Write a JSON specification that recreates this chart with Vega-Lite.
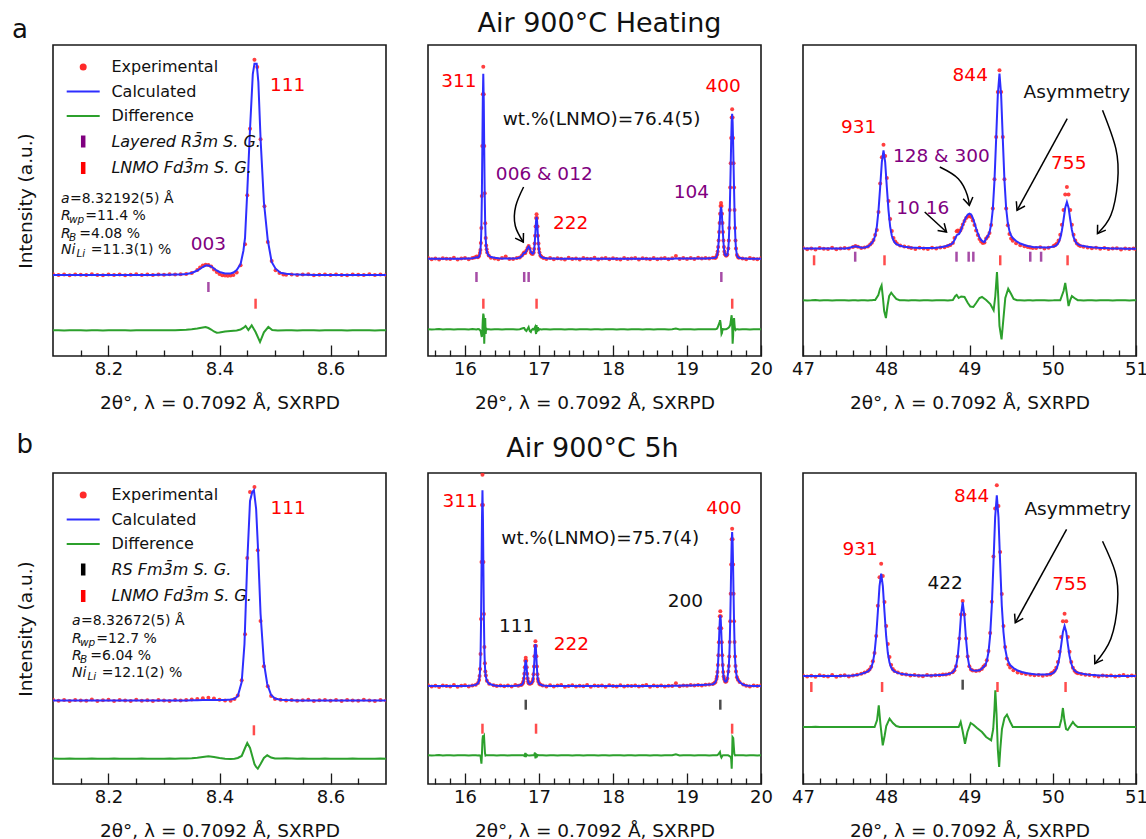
{
"$schema":"https://vega.github.io/schema/vega-lite/v6.json",
"background":"white",
"padding":{"left":11,"top":9,"right":0,"bottom":0},
"autosize":{"type":"pad"},
"config":{
 "font":"DejaVu Sans",
 "view":{"stroke":"#1a1a1a","strokeWidth":1.6},
 "axis":{"grid":false,"domain":false,"labelFont":"DejaVu Sans","labelFontSize":18,"labelColor":"#111","titleFont":"DejaVu Sans","titleFontSize":18.5,"titleFontWeight":"normal","titleColor":"#111","tickColor":"#1a1a1a","tickWidth":1.3},
 "title":{"font":"DejaVu Sans","fontWeight":"normal","color":"#111"},
 "legend":{"labelFont":"DejaVu Sans"},
 "text":{"font":"DejaVu Sans"}
},
"datasets":{
"prof":[
{"p":"a1","x":8.10,"e":81.8,"c":81,"d":25.7},{"p":"a1","x":8.11,"e":80.9,"c":81,"d":25.7},{"p":"a1","x":8.12,"e":81.5,"c":81,"d":25.6},{"p":"a1","x":8.13,"e":80.7,"c":81,"d":25.7},{"p":"a1","x":8.14,"e":81.6,"c":81,"d":25.8},{"p":"a1","x":8.15,"e":81.2,"c":81,"d":25.7},{"p":"a1","x":8.16,"e":80.9,"c":81,"d":25.6},{"p":"a1","x":8.17,"e":81.7,"c":81,"d":25.7},{"p":"a1","x":8.18,"e":81.1,"c":81,"d":25.7},{"p":"a1","x":8.19,"e":80.8,"c":81,"d":25.6},{"p":"a1","x":8.20,"e":81.5,"c":81,"d":25.7},{"p":"a1","x":8.21,"e":81.0,"c":81,"d":25.8},{"p":"a1","x":8.22,"e":81.6,"c":81,"d":25.7},{"p":"a1","x":8.23,"e":80.8,"c":81,"d":25.7},{"p":"a1","x":8.24,"e":81.3,"c":81,"d":25.6},{"p":"a1","x":8.25,"e":81.7,"c":81,"d":25.7},{"p":"a1","x":8.26,"e":80.9,"c":81.1,"d":25.7},{"p":"a1","x":8.27,"e":81.4,"c":81.1,"d":25.8},{"p":"a1","x":8.28,"e":81.0,"c":81.1,"d":25.7},{"p":"a1","x":8.29,"e":81.6,"c":81.2,"d":25.7},{"p":"a1","x":8.30,"e":81.2,"c":81.2,"d":25.7},{"p":"a1","x":8.31,"e":81.7,"c":81.3,"d":25.8},{"p":"a1","x":8.32,"e":81.4,"c":81.4,"d":25.8},{"p":"a1","x":8.33,"e":81.8,"c":81.6,"d":26},{"p":"a1","x":8.34,"e":82.0,"c":82,"d":26.3},{"p":"a1","x":8.35,"e":83,"c":83,"d":26.8},{"p":"a1","x":8.36,"e":86,"c":85.5,"d":27.5},{"p":"a1","x":8.365,"e":88.5},{"p":"a1","x":8.37,"e":90.5,"c":89,"d":28.5},{"p":"a1","x":8.375,"e":91.3,"c":90.5,"d":29},{"p":"a1","x":8.38,"e":91,"c":90.5,"d":28},{"p":"a1","x":8.385,"e":89.5,"c":89.5,"d":26.5},{"p":"a1","x":8.39,"e":86.5,"c":87.5,"d":24.5},{"p":"a1","x":8.395,"e":84,"c":85.5,"d":23.3},{"p":"a1","x":8.40,"e":82,"c":84,"d":23.5},{"p":"a1","x":8.405,"e":80.8},{"p":"a1","x":8.41,"e":80.5,"c":82.5,"d":24.5},{"p":"a1","x":8.415,"e":80.3},{"p":"a1","x":8.42,"e":80.5,"c":82.5,"d":25},{"p":"a1","x":8.425,"e":81,"c":83.5},{"p":"a1","x":8.431,"e":83.5,"c":86,"d":25.5},{"p":"a1","x":8.438,"e":90.7,"c":92,"d":26.5},{"p":"a1","x":8.443,"c":105,"d":28},{"p":"a1","x":8.446,"e":111.7,"c":118},{"p":"a1","x":8.447,"d":30},{"p":"a1","x":8.45,"e":160.7,"c":164},{"p":"a1","x":8.452,"d":26},{"p":"a1","x":8.455,"e":227.3,"c":227},{"p":"a1","x":8.458,"d":30.7},{"p":"a1","x":8.46,"c":282},{"p":"a1","x":8.463,"e":296.3,"c":292.3},{"p":"a1","x":8.465,"d":24},{"p":"a1","x":8.467,"c":292.3},{"p":"a1","x":8.468,"e":289},{"p":"a1","x":8.47,"c":274},{"p":"a1","x":8.473,"d":14},{"p":"a1","x":8.474,"e":216.7,"c":217},{"p":"a1","x":8.48,"c":154,"d":23.7},{"p":"a1","x":8.481,"e":149.7},{"p":"a1","x":8.487,"e":114,"c":115.7},{"p":"a1","x":8.488,"d":29},{"p":"a1","x":8.494,"e":95,"c":94},{"p":"a1","x":8.495,"d":26},{"p":"a1","x":8.501,"e":85.7,"c":87.3},{"p":"a1","x":8.505,"d":25.5},{"p":"a1","x":8.508,"e":83},{"p":"a1","x":8.51,"c":83.3},{"p":"a1","x":8.515,"e":81.5},{"p":"a1","x":8.52,"e":81.2,"c":82.3,"d":25.7},{"p":"a1","x":8.53,"e":81.6,"c":81.8,"d":25.7},{"p":"a1","x":8.54,"e":80.9,"c":81.5,"d":25.6},{"p":"a1","x":8.55,"e":81.4,"c":81.3,"d":25.7},{"p":"a1","x":8.56,"e":81.8,"c":81.2,"d":25.8},{"p":"a1","x":8.57,"e":80.8,"c":81.1,"d":25.7},{"p":"a1","x":8.58,"e":81.3,"c":81.1,"d":25.6},{"p":"a1","x":8.59,"e":81.6,"c":81,"d":25.7},{"p":"a1","x":8.60,"e":80.9,"c":81,"d":25.7},{"p":"a1","x":8.61,"e":81.5,"c":81,"d":25.8},{"p":"a1","x":8.62,"e":81.1,"c":81,"d":25.7},{"p":"a1","x":8.63,"e":80.7,"c":81,"d":25.6},{"p":"a1","x":8.64,"e":81.6,"c":81,"d":25.7},{"p":"a1","x":8.65,"e":81.2,"c":81,"d":25.7},{"p":"a1","x":8.66,"e":80.9,"c":81,"d":25.8},{"p":"a1","x":8.67,"e":81.7,"c":81,"d":25.7},{"p":"a1","x":8.68,"e":81.0,"c":81,"d":25.6},{"p":"a1","x":8.69,"e":81.4,"c":81,"d":25.7},{"p":"a1","x":8.70,"e":81.1,"c":81,"d":25.7},

{"p":"a2","x":15.50,"e":98.1,"c":97.2,"d":26.8},{"p":"a2","x":15.55,"e":96.7,"c":97.2,"d":26.6},{"p":"a2","x":15.60,"e":97.6,"c":97.2,"d":26.7},{"p":"a2","x":15.65,"e":96.4,"c":97.2,"d":26.9},{"p":"a2","x":15.70,"e":97.8,"c":97.2,"d":26.6},{"p":"a2","x":15.75,"e":97.3,"c":97.2,"d":26.7},{"p":"a2","x":15.80,"e":96.9,"c":97.2,"d":26.8},{"p":"a2","x":15.85,"e":98.3,"c":97.2,"d":26.6},{"p":"a2","x":15.90,"e":96.6,"c":97.3,"d":26.7},{"p":"a2","x":15.95,"e":97.5,"c":97.3,"d":26.8},{"p":"a2","x":16.00,"e":98.1,"c":97.4,"d":26.7},{"p":"a2","x":16.05,"e":96.7,"c":97.5,"d":26.6},{"p":"a2","x":16.10,"e":97.9,"c":97.8,"d":26.9},{"p":"a2","x":16.13,"e":98.5,"c":98.3,"d":26.7},{"p":"a2","x":16.155,"e":99.5,"c":98.8,"d":26.5},{"p":"a2","x":16.175,"e":98.8,"c":98.6,"d":27},{"p":"a2","x":16.19,"e":100,"c":99.6,"d":26.8},{"p":"a2","x":16.2015,"e":103,"c":102.5,"d":26},{"p":"a2","x":16.208,"e":106,"c":105.5,"d":25.5},{"p":"a2","x":16.2145,"e":113,"c":112,"d":24},{"p":"a2","x":16.221,"e":128,"c":126.5,"d":21},{"p":"a2","x":16.2275,"e":160,"c":157.5,"d":19},{"p":"a2","x":16.234,"e":210,"c":205.9,"d":24},{"p":"a2","x":16.2405,"e":261.8,"c":255.8,"d":36},{"p":"a2","x":16.247,"e":289.3,"c":282.3,"d":42.3},{"p":"a2","x":16.2535,"e":261.8,"c":255.8,"d":40},{"p":"a2","x":16.26,"e":210,"c":205.9,"d":12.3},{"p":"a2","x":16.2665,"e":162.8,"c":160.4,"d":30},{"p":"a2","x":16.273,"e":132.8,"c":131.5,"d":38},{"p":"a2","x":16.2795,"e":118,"c":117.3,"d":22},{"p":"a2","x":16.286,"e":110.5,"c":110,"d":28},{"p":"a2","x":16.2925,"e":106.7,"c":106,"d":26.5},{"p":"a2","x":16.30,"e":103.5,"c":103,"d":26.7},{"p":"a2","x":16.32,"e":100.5,"c":100.5,"d":26.8},{"p":"a2","x":16.35,"e":98.2,"c":99,"d":26.6},{"p":"a2","x":16.40,"e":97.6,"c":98.2,"d":26.7},{"p":"a2","x":16.45,"e":96.8,"c":97.8,"d":26.8},{"p":"a2","x":16.50,"e":97.9,"c":97.6,"d":26.6},{"p":"a2","x":16.55,"e":99.5,"c":97.5,"d":26.7},{"p":"a2","x":16.60,"e":97.0,"c":97.5,"d":26.8},{"p":"a2","x":16.65,"e":96.9,"c":97.6,"d":26.7},{"p":"a2","x":16.70,"e":98.1,"c":97.8,"d":26.6},{"p":"a2","x":16.74,"e":98.6,"c":98.5,"d":26.8},{"p":"a2","x":16.77,"e":100.5,"c":100,"d":27.5},{"p":"a2","x":16.79,"e":102.5,"c":102.5,"d":28},{"p":"a2","x":16.80,"e":103.5,"c":103,"d":28},{"p":"a2","x":16.815,"e":103,"c":103.2,"d":26},{"p":"a2","x":16.83,"e":105.5,"c":105.5,"d":25},{"p":"a2","x":16.845,"e":108,"c":108,"d":27},{"p":"a2","x":16.86,"e":110,"c":109.5,"d":29},{"p":"a2","x":16.875,"e":107.5,"c":107.5,"d":25},{"p":"a2","x":16.89,"e":103.5,"c":104,"d":24},{"p":"a2","x":16.90,"e":102.5,"c":103,"d":26},{"p":"a2","x":16.915,"e":102,"c":102.3,"d":27},{"p":"a2","x":16.928,"e":103.5,"c":103.1,"d":26.5},{"p":"a2","x":16.9345,"e":107,"c":106.4,"d":27},{"p":"a2","x":16.941,"e":112.4,"c":111.5,"d":28},{"p":"a2","x":16.9475,"e":120.2,"c":118.8,"d":29},{"p":"a2","x":16.954,"e":129.5,"c":127.5,"d":25},{"p":"a2","x":16.9605,"e":138,"c":135.5,"d":22},{"p":"a2","x":16.967,"e":141.7,"c":139,"d":31},{"p":"a2","x":16.9735,"e":138,"c":135.5,"d":24},{"p":"a2","x":16.98,"e":129.5,"c":127.5,"d":26},{"p":"a2","x":16.9865,"e":120.2,"c":118.8,"d":29},{"p":"a2","x":16.993,"e":112.4,"c":111.5,"d":25},{"p":"a2","x":16.9995,"e":107,"c":106.4,"d":27},{"p":"a2","x":17.006,"e":103.5,"c":103.1,"d":26.7},{"p":"a2","x":17.019,"e":100.4,"c":100.2,"d":26.7},{"p":"a2","x":17.032,"e":99.2,"c":99.1,"d":26.6},{"p":"a2","x":17.06,"e":98.1,"c":98.3,"d":26.7},{"p":"a2","x":17.10,"e":97.0,"c":97.8,"d":26.8},{"p":"a2","x":17.15,"e":98.0,"c":97.5,"d":26.6},{"p":"a2","x":17.20,"e":96.8,"c":97.4,"d":26.7},{"p":"a2","x":17.25,"e":97.7,"c":97.3,"d":26.8},{"p":"a2","x":17.30,"e":97.2,"c":97.3,"d":26.7},{"p":"a2","x":17.35,"e":96.6,"c":97.2,"d":26.6},{"p":"a2","x":17.40,"e":98.2,"c":97.2,"d":26.8},{"p":"a2","x":17.45,"e":97.0,"c":97.2,"d":26.7},{"p":"a2","x":17.50,"e":97.6,"c":97.2,"d":26.6},{"p":"a2","x":17.55,"e":96.5,"c":97.2,"d":26.8},{"p":"a2","x":17.60,"e":97.9,"c":97.2,"d":26.7},{"p":"a2","x":17.65,"e":97.3,"c":97.2,"d":26.7},{"p":"a2","x":17.70,"e":96.9,"c":97.2,"d":26.6},{"p":"a2","x":17.75,"e":98.2,"c":97.2,"d":26.8},{"p":"a2","x":17.80,"e":96.6,"c":97.2,"d":26.7},{"p":"a2","x":17.85,"e":97.5,"c":97.2,"d":26.6},{"p":"a2","x":17.90,"e":98.0,"c":97.2,"d":26.8},{"p":"a2","x":17.95,"e":96.8,"c":97.2,"d":26.7},{"p":"a2","x":18.00,"e":97.8,"c":97.2,"d":26.7},{"p":"a2","x":18.05,"e":97.1,"c":97.2,"d":26.6},{"p":"a2","x":18.10,"e":96.6,"c":97.2,"d":26.8},{"p":"a2","x":18.15,"e":98.1,"c":97.2,"d":26.7},{"p":"a2","x":18.20,"e":96.9,"c":97.2,"d":26.6},{"p":"a2","x":18.25,"e":97.5,"c":97.2,"d":26.8},{"p":"a2","x":18.30,"e":97.9,"c":97.2,"d":26.7},{"p":"a2","x":18.35,"e":96.6,"c":97.2,"d":26.7},{"p":"a2","x":18.40,"e":97.8,"c":97.2,"d":26.6},{"p":"a2","x":18.45,"e":97.2,"c":97.2,"d":26.8},{"p":"a2","x":18.50,"e":96.8,"c":97.2,"d":26.7},{"p":"a2","x":18.55,"e":98.0,"c":97.2,"d":26.6},{"p":"a2","x":18.60,"e":96.7,"c":97.2,"d":26.8},{"p":"a2","x":18.65,"e":97.6,"c":97.2,"d":26.7},{"p":"a2","x":18.70,"e":97.9,"c":97.3,"d":26.7},{"p":"a2","x":18.75,"e":96.8,"c":97.3,"d":26.6},{"p":"a2","x":18.80,"e":97.7,"c":97.3,"d":26.8},{"p":"a2","x":18.85,"e":100,"c":97.4,"d":27.5},{"p":"a2","x":18.90,"e":96.9,"c":97.4,"d":26.6},{"p":"a2","x":18.95,"e":98.0,"c":97.5,"d":26.8},{"p":"a2","x":19.00,"e":97.1,"c":97.5,"d":26.7},{"p":"a2","x":19.05,"e":98.0,"c":97.5,"d":26.7},{"p":"a2","x":19.10,"e":97.0,"c":97.5,"d":26.6},{"p":"a2","x":19.15,"e":98.2,"c":97.5,"d":26.8},{"p":"a2","x":19.20,"e":97.5,"c":97.4,"d":26.7},{"p":"a2","x":19.25,"e":98.1,"c":97.6,"d":26.7},{"p":"a2","x":19.30,"e":97.4,"c":97.8,"d":26.8},{"p":"a2","x":19.35,"e":98.3,"c":98.0,"d":26.7},{"p":"a2","x":19.382,"e":98.0,"c":98.2,"d":26.8},{"p":"a2","x":19.395,"e":99.0,"c":98.9,"d":27},{"p":"a2","x":19.408,"e":101.5,"c":101.2,"d":27.5},{"p":"a2","x":19.4145,"e":104.5,"c":104,"d":28.5},{"p":"a2","x":19.421,"e":109,"c":108.2,"d":30},{"p":"a2","x":19.4275,"e":115.5,"c":114.2,"d":31},{"p":"a2","x":19.434,"e":123.9,"c":122,"d":32.5},{"p":"a2","x":19.4405,"e":132.9,"c":130.3,"d":34},{"p":"a2","x":19.447,"e":142.3,"c":139.1,"d":35.7},{"p":"a2","x":19.4535,"e":149.9,"c":146.2,"d":33},{"p":"a2","x":19.46,"e":153,"c":149,"d":28},{"p":"a2","x":19.4665,"e":149.9,"c":146.2,"d":22},{"p":"a2","x":19.473,"e":142.3,"c":139.1,"d":23},{"p":"a2","x":19.4795,"e":132.9,"c":130.3,"d":27},{"p":"a2","x":19.486,"e":123.9,"c":122,"d":27},{"p":"a2","x":19.4925,"e":115.5,"c":114.2,"d":26.7},{"p":"a2","x":19.499,"e":109,"c":108.2,"d":26.5},{"p":"a2","x":19.5055,"e":104.5,"c":104,"d":26.7},{"p":"a2","x":19.512,"e":101.8,"c":101.5,"d":26.8},{"p":"a2","x":19.525,"e":100.6,"c":100.3,"d":26.7},{"p":"a2","x":19.535,"e":100.6,"c":100.4,"d":27},{"p":"a2","x":19.545,"e":101.5,"c":101.2,"d":27.5},{"p":"a2","x":19.558,"e":107.5,"c":107,"d":28},{"p":"a2","x":19.5645,"e":115.5,"c":114.8,"d":28.5},{"p":"a2","x":19.571,"e":128,"c":127,"d":29},{"p":"a2","x":19.5775,"e":146,"c":144.5,"d":30},{"p":"a2","x":19.584,"e":168.6,"c":166.5,"d":31},{"p":"a2","x":19.5905,"e":192.8,"c":190,"d":34},{"p":"a2","x":19.597,"e":218,"c":214.5,"d":38},{"p":"a2","x":19.6035,"e":238.5,"c":234.3,"d":40.7},{"p":"a2","x":19.61,"e":246.7,"c":242.3,"d":33},{"p":"a2","x":19.6165,"e":238.5,"c":234.3,"d":12.3},{"p":"a2","x":19.623,"e":218,"c":214.5,"d":20},{"p":"a2","x":19.6295,"e":192.8,"c":190,"d":34},{"p":"a2","x":19.636,"e":168.6,"c":166.5,"d":38},{"p":"a2","x":19.6425,"e":146,"c":144.5,"d":31},{"p":"a2","x":19.649,"e":128,"c":127,"d":27},{"p":"a2","x":19.6555,"e":115.5,"c":114.8,"d":26},{"p":"a2","x":19.662,"e":107.5,"c":107,"d":26.5},{"p":"a2","x":19.675,"e":101,"c":100.8,"d":26.7},{"p":"a2","x":19.688,"e":99,"c":99,"d":26.8},{"p":"a2","x":19.70,"e":98.3,"c":98.2,"d":26.6},{"p":"a2","x":19.75,"e":97.5,"c":97.6,"d":26.7},{"p":"a2","x":19.80,"e":96.8,"c":97.4,"d":26.8},{"p":"a2","x":19.85,"e":98.0,"c":97.3,"d":26.6},{"p":"a2","x":19.90,"e":97.2,"c":97.2,"d":26.7},{"p":"a2","x":19.95,"e":96.7,"c":97.2,"d":26.8},{"p":"a2","x":20.00,"e":97.8,"c":97.2,"d":26.7},

{"p":"a3","x":47.00,"e":108.0,"c":107.4,"d":55.8},{"p":"a3","x":47.05,"e":106.8,"c":107.4,"d":55.6},{"p":"a3","x":47.10,"e":107.6,"c":107.4,"d":55.7},{"p":"a3","x":47.15,"e":106.5,"c":107.4,"d":55.9},{"p":"a3","x":47.20,"e":107.9,"c":107.4,"d":55.6},{"p":"a3","x":47.25,"e":107.3,"c":107.4,"d":55.7},{"p":"a3","x":47.30,"e":106.9,"c":107.4,"d":55.8},{"p":"a3","x":47.35,"e":108.3,"c":107.4,"d":55.6},{"p":"a3","x":47.40,"e":106.7,"c":107.5,"d":55.7},{"p":"a3","x":47.45,"e":107.5,"c":107.5,"d":55.8},{"p":"a3","x":47.50,"e":108.0,"c":107.6,"d":55.7},{"p":"a3","x":47.55,"e":107.5,"c":108.0,"d":55.6},{"p":"a3","x":47.60,"e":109.0,"c":109.2,"d":55.8},{"p":"a3","x":47.63,"e":110.0,"c":109.7,"d":55.7},{"p":"a3","x":47.66,"e":109.2,"c":109.2,"d":55.6},{"p":"a3","x":47.70,"e":108.0,"c":108.2,"d":55.8},{"p":"a3","x":47.74,"e":108.6,"c":108.5,"d":55.7},{"p":"a3","x":47.78,"e":109.6,"c":109.5,"d":55.6},{"p":"a3","x":47.807,"e":111.5,"c":111.2,"d":55.7},{"p":"a3","x":47.827,"e":113.3,"c":113.0,"d":55.8},{"p":"a3","x":47.847,"e":115.9,"c":115.5,"d":55.9},{"p":"a3","x":47.867,"e":120.9,"c":120.2},{"p":"a3","x":47.887,"e":126,"c":129.4},{"p":"a3","x":47.907,"e":144,"c":145.6},{"p":"a3","x":47.927,"e":172.4,"c":168.9},{"p":"a3","x":47.947,"e":198.7,"c":193.8},{"p":"a3","x":47.967,"e":211.3,"c":205.7},{"p":"a3","x":47.987,"e":200,"c":193.8},{"p":"a3","x":48.007,"e":178,"c":168.9},{"p":"a3","x":48.027,"e":155,"c":145.6},{"p":"a3","x":48.047,"e":137,"c":129.4},{"p":"a3","x":48.067,"e":125,"c":120.2},{"p":"a3","x":48.087,"e":118,"c":115.5},{"p":"a3","x":48.107,"e":114.5,"c":113},{"p":"a3","x":48.127,"e":112.5,"c":111.7},{"p":"a3","x":48.167,"e":110.6,"c":110.3},{"p":"a3","x":48.217,"e":109.4,"c":109.2,"d":55.7},{"p":"a3","x":48.267,"e":108.8,"c":108.7,"d":55.6},{"p":"a3","x":48.30,"e":107.9,"c":108.5,"d":55.8},{"p":"a3","x":48.35,"e":107.1,"c":108.3,"d":55.7},{"p":"a3","x":48.40,"e":108.2,"c":108.1,"d":55.6},{"p":"a3","x":48.45,"e":107.4,"c":108.0,"d":55.8},{"p":"a3","x":48.50,"e":107.0,"c":108.0,"d":55.7},{"p":"a3","x":48.55,"e":108.3,"c":108.1,"d":55.6},{"p":"a3","x":48.60,"e":107.6,"c":108.3,"d":55.7},{"p":"a3","x":48.65,"e":108.5,"c":108.7,"d":55.8},{"p":"a3","x":48.70,"e":108.8,"c":109.5,"d":55.7},{"p":"a3","x":48.74,"e":110,"c":110.5,"d":55.6},{"p":"a3","x":48.77,"e":111,"c":111.5,"d":55.8},{"p":"a3","x":48.80,"e":113,"c":113},{"p":"a3","x":48.82,"e":118,"c":116},{"p":"a3","x":48.846,"e":124.7,"c":120.7},{"p":"a3","x":48.86,"e":125.5,"c":121.5},{"p":"a3","x":48.875,"e":124.5,"c":122},{"p":"a3","x":48.89,"e":125.5,"c":124.5},{"p":"a3","x":48.905,"e":128,"c":127.5},{"p":"a3","x":48.92,"e":131.5,"c":131},{"p":"a3","x":48.94,"e":135,"c":135.5},{"p":"a3","x":48.96,"e":138,"c":139},{"p":"a3","x":48.98,"e":139.5,"c":141.5},{"p":"a3","x":49.00,"e":140,"c":142.3},{"p":"a3","x":49.02,"e":139,"c":141.5},{"p":"a3","x":49.04,"e":135.5,"c":138},{"p":"a3","x":49.06,"e":131,"c":133},{"p":"a3","x":49.08,"e":125.5,"c":127.5},{"p":"a3","x":49.10,"e":121,"c":122.5},{"p":"a3","x":49.12,"e":117,"c":118.5},{"p":"a3","x":49.14,"e":114.5,"c":116},{"p":"a3","x":49.16,"e":113,"c":114.5},{"p":"a3","x":49.18,"e":113.5,"c":114},{"p":"a3","x":49.20,"e":117.5,"c":117.5},{"p":"a3","x":49.22,"e":119.5,"c":119.8},{"p":"a3","x":49.24,"e":123,"c":123.5},{"p":"a3","x":49.26,"e":131,"c":131.5},{"p":"a3","x":49.28,"e":147.4,"c":146.7},{"p":"a3","x":49.30,"e":176.7,"c":175.4},{"p":"a3","x":49.32,"e":219,"c":216.9},{"p":"a3","x":49.34,"e":264.1,"c":261.1},{"p":"a3","x":49.36,"e":285.7,"c":282.3},{"p":"a3","x":49.38,"e":264.1,"c":261.1},{"p":"a3","x":49.40,"e":219,"c":216.9},{"p":"a3","x":49.42,"e":176.7,"c":175.4},{"p":"a3","x":49.44,"e":147.4,"c":148},{"p":"a3","x":49.46,"e":130.7,"c":133},{"p":"a3","x":49.48,"e":122.1,"c":125},{"p":"a3","x":49.50,"e":117.6,"c":120.5},{"p":"a3","x":49.52,"e":115.3,"c":118},{"p":"a3","x":49.56,"e":112.7,"c":115},{"p":"a3","x":49.61,"e":110.7,"c":112.5,"d":55.7},{"p":"a3","x":49.66,"e":109.8,"c":111,"d":55.6},{"p":"a3","x":49.70,"e":109,"c":110,"d":55.8},{"p":"a3","x":49.73,"e":108.5,"c":109.6,"d":55.7},{"p":"a3","x":49.76,"e":108,"c":109,"d":55.6},{"p":"a3","x":49.80,"e":107.9,"c":108.8,"d":55.7},{"p":"a3","x":49.85,"e":108.8,"c":108.8,"d":55.8},{"p":"a3","x":49.90,"e":107.6,"c":108.6,"d":55.7},{"p":"a3","x":49.95,"e":108.2,"c":108.6,"d":55.6},{"p":"a3","x":50.01,"e":110.1,"c":109.4,"d":55.7},{"p":"a3","x":50.03,"e":110.9,"c":110,"d":55.8},{"p":"a3","x":50.05,"e":112.4,"c":111.2,"d":55.7},{"p":"a3","x":50.07,"e":115.4,"c":113.4,"d":55.7},{"p":"a3","x":50.09,"e":121.2,"c":117.8},{"p":"a3","x":50.11,"e":131.3,"c":125.5},{"p":"a3","x":50.13,"e":145.9,"c":136.5},{"p":"a3","x":50.15,"e":161.5,"c":148.4},{"p":"a3","x":50.17,"e":169,"c":154},{"p":"a3","x":50.19,"e":161.5,"c":148.4},{"p":"a3","x":50.21,"e":145.9,"c":136.5},{"p":"a3","x":50.23,"e":131.3,"c":126},{"p":"a3","x":50.25,"e":121.2,"c":118.8},{"p":"a3","x":50.27,"e":115.4,"c":114.8},{"p":"a3","x":50.29,"e":112.4,"c":112.5},{"p":"a3","x":50.31,"e":110.9,"c":111.3},{"p":"a3","x":50.33,"e":110.1,"c":110.6,"d":55.7},{"p":"a3","x":50.37,"e":109.2,"c":109.9,"d":55.6},{"p":"a3","x":50.42,"e":108.4,"c":109.3,"d":55.8},{"p":"a3","x":50.47,"e":107.8,"c":108.8,"d":55.7},{"p":"a3","x":50.52,"e":108.2,"c":108.4,"d":55.6},{"p":"a3","x":50.57,"e":107.2,"c":108.1,"d":55.7},{"p":"a3","x":50.62,"e":107.9,"c":107.9,"d":55.8},{"p":"a3","x":50.67,"e":106.9,"c":107.7,"d":55.7},{"p":"a3","x":50.72,"e":107.4,"c":107.6,"d":55.6},{"p":"a3","x":50.77,"e":107.8,"c":107.5,"d":55.7},{"p":"a3","x":50.82,"e":106.6,"c":107.4,"d":55.8},{"p":"a3","x":50.87,"e":107.5,"c":107.3,"d":55.7},{"p":"a3","x":50.92,"e":106.9,"c":107.2,"d":55.6},{"p":"a3","x":50.97,"e":107.6,"c":107.2,"d":55.7},{"p":"a3","x":51.00,"e":106.8,"c":107.2,"d":55.7},
{"p":"a3","x":47.867,"d":56},{"p":"a3","x":47.905,"d":61},{"p":"a3","x":47.925,"d":67},{"p":"a3","x":47.944,"d":70.7},{"p":"a3","x":47.958,"d":60},{"p":"a3","x":47.975,"d":45},{"p":"a3","x":47.996,"d":38},{"p":"a3","x":48.015,"d":50},{"p":"a3","x":48.035,"d":60},{"p":"a3","x":48.06,"d":63.3},{"p":"a3","x":48.09,"d":60},{"p":"a3","x":48.12,"d":57},{"p":"a3","x":48.16,"d":55.8},{"p":"a3","x":48.19,"d":55.7},
{"p":"a3","x":48.80,"d":56},{"p":"a3","x":48.83,"d":60},{"p":"a3","x":48.846,"d":61},{"p":"a3","x":48.87,"d":58},{"p":"a3","x":48.90,"d":59.5},{"p":"a3","x":48.94,"d":59},{"p":"a3","x":48.98,"d":53},{"p":"a3","x":49.01,"d":49.5},{"p":"a3","x":49.046,"d":49},{"p":"a3","x":49.08,"d":53},{"p":"a3","x":49.12,"d":58},{"p":"a3","x":49.15,"d":59},{"p":"a3","x":49.20,"d":56},{"p":"a3","x":49.25,"d":52},{"p":"a3","x":49.29,"d":45.7},{"p":"a3","x":49.31,"d":60},{"p":"a3","x":49.33,"d":84},{"p":"a3","x":49.345,"d":60},{"p":"a3","x":49.36,"d":30},{"p":"a3","x":49.385,"d":16.7},{"p":"a3","x":49.405,"d":35},{"p":"a3","x":49.43,"d":58},{"p":"a3","x":49.465,"d":67.3},{"p":"a3","x":49.50,"d":62},{"p":"a3","x":49.53,"d":57},{"p":"a3","x":49.57,"d":55.7},
{"p":"a3","x":50.09,"d":55.7},{"p":"a3","x":50.13,"d":65},{"p":"a3","x":50.15,"d":73},{"p":"a3","x":50.17,"d":62},{"p":"a3","x":50.19,"d":50},{"p":"a3","x":50.21,"d":56},{"p":"a3","x":50.23,"d":60},{"p":"a3","x":50.26,"d":58},{"p":"a3","x":50.30,"d":55.8},

{"p":"b1","x":8.10,"e":84.3,"c":83.5,"d":25.4},{"p":"b1","x":8.11,"e":83.2,"c":83.5,"d":25.2},{"p":"b1","x":8.12,"e":83.9,"c":83.5,"d":25.3},{"p":"b1","x":8.13,"e":82.9,"c":83.5,"d":25.4},{"p":"b1","x":8.14,"e":84.1,"c":83.5,"d":25.3},{"p":"b1","x":8.15,"e":83.6,"c":83.5,"d":25.2},{"p":"b1","x":8.16,"e":83.2,"c":83.5,"d":25.3},{"p":"b1","x":8.17,"e":84.4,"c":83.5,"d":25.4},{"p":"b1","x":8.18,"e":83.0,"c":83.5,"d":25.3},{"p":"b1","x":8.19,"e":83.8,"c":83.5,"d":25.2},{"p":"b1","x":8.20,"e":84.2,"c":83.5,"d":25.3},{"p":"b1","x":8.21,"e":83.1,"c":83.5,"d":25.4},{"p":"b1","x":8.22,"e":83.9,"c":83.5,"d":25.3},{"p":"b1","x":8.23,"e":83.4,"c":83.5,"d":25.3},{"p":"b1","x":8.24,"e":82.9,"c":83.5,"d":25.2},{"p":"b1","x":8.25,"e":84.2,"c":83.5,"d":25.3},{"p":"b1","x":8.26,"e":83.3,"c":83.5,"d":25.4},{"p":"b1","x":8.27,"e":83.8,"c":83.5,"d":25.3},{"p":"b1","x":8.28,"e":83.0,"c":83.5,"d":25.3},{"p":"b1","x":8.29,"e":84.0,"c":83.5,"d":25.2},{"p":"b1","x":8.30,"e":83.5,"c":83.5,"d":25.3},{"p":"b1","x":8.31,"e":83.1,"c":83.5,"d":25.4},{"p":"b1","x":8.32,"e":84.1,"c":83.6,"d":25.3},{"p":"b1","x":8.33,"e":83.6,"c":83.6,"d":25.4},{"p":"b1","x":8.34,"e":83.9,"c":83.6,"d":25.5},{"p":"b1","x":8.35,"e":84.4,"c":83.7,"d":25.8},{"p":"b1","x":8.36,"e":85,"c":83.8,"d":26.3},{"p":"b1","x":8.37,"e":85.8,"c":83.9,"d":27},{"p":"b1","x":8.38,"e":86.2,"c":84,"d":27.7},{"p":"b1","x":8.39,"e":85.5,"c":84,"d":27},{"p":"b1","x":8.40,"e":84.3,"c":84,"d":26},{"p":"b1","x":8.41,"e":83.4,"c":84.1,"d":25.3},{"p":"b1","x":8.42,"e":83.3,"c":84.4,"d":25},{"p":"b1","x":8.427,"e":85,"c":85.2,"d":25.3},{"p":"b1","x":8.433,"e":88.5,"c":88,"d":26},{"p":"b1","x":8.44,"e":103.7,"c":102,"d":28},{"p":"b1","x":8.445,"c":140},{"p":"b1","x":8.446,"e":149.7,"d":36},{"p":"b1","x":8.45,"e":226,"c":222,"d":41},{"p":"b1","x":8.455,"e":292,"c":283,"d":36},{"p":"b1","x":8.459,"c":292,"d":28},{"p":"b1","x":8.462,"c":293.7},{"p":"b1","x":8.463,"e":297,"d":20},{"p":"b1","x":8.466,"c":275,"d":17},{"p":"b1","x":8.469,"e":233.7,"c":240,"d":15.3},{"p":"b1","x":8.474,"e":163,"c":170,"d":20},{"p":"b1","x":8.48,"e":117.7,"c":121,"d":26},{"p":"b1","x":8.486,"c":100,"d":28.7},{"p":"b1","x":8.487,"e":97.7},{"p":"b1","x":8.493,"e":88,"c":89,"d":26.5},{"p":"b1","x":8.50,"e":85,"c":85.5,"d":25.5},{"p":"b1","x":8.51,"e":84.2,"c":84.3,"d":25.6},{"p":"b1","x":8.52,"e":83.6,"c":83.9,"d":25.8},{"p":"b1","x":8.53,"e":84.1,"c":83.7,"d":25.5},{"p":"b1","x":8.54,"e":83.2,"c":83.6,"d":25.3},{"p":"b1","x":8.55,"e":83.8,"c":83.5,"d":25.4},{"p":"b1","x":8.56,"e":84.3,"c":83.5,"d":25.3},{"p":"b1","x":8.57,"e":83.1,"c":83.5,"d":25.2},{"p":"b1","x":8.58,"e":83.7,"c":83.5,"d":25.3},{"p":"b1","x":8.59,"e":84.1,"c":83.5,"d":25.4},{"p":"b1","x":8.60,"e":83.3,"c":83.5,"d":25.3},{"p":"b1","x":8.61,"e":83.9,"c":83.5,"d":25.3},{"p":"b1","x":8.62,"e":83.0,"c":83.5,"d":25.2},{"p":"b1","x":8.63,"e":84.0,"c":83.5,"d":25.3},{"p":"b1","x":8.64,"e":83.6,"c":83.5,"d":25.4},{"p":"b1","x":8.65,"e":83.2,"c":83.5,"d":25.3},{"p":"b1","x":8.66,"e":84.2,"c":83.5,"d":25.3},{"p":"b1","x":8.67,"e":83.5,"c":83.5,"d":25.2},{"p":"b1","x":8.68,"e":83.0,"c":83.5,"d":25.3},{"p":"b1","x":8.69,"e":83.9,"c":83.5,"d":25.4},{"p":"b1","x":8.70,"e":83.5,"c":83.5,"d":25.3},

{"p":"b2","x":15.50,"e":98.8,"c":98,"d":28.8},{"p":"b2","x":15.55,"e":97.4,"c":98,"d":28.6},{"p":"b2","x":15.60,"e":98.3,"c":98,"d":28.7},{"p":"b2","x":15.65,"e":97.1,"c":98,"d":28.9},{"p":"b2","x":15.70,"e":98.5,"c":98,"d":28.6},{"p":"b2","x":15.75,"e":98.0,"c":98,"d":28.7},{"p":"b2","x":15.80,"e":97.6,"c":98,"d":28.8},{"p":"b2","x":15.85,"e":99.0,"c":98,"d":28.6},{"p":"b2","x":15.90,"e":97.3,"c":98,"d":28.7},{"p":"b2","x":15.95,"e":98.2,"c":98.1,"d":28.8},{"p":"b2","x":16.00,"e":98.8,"c":98.1,"d":28.7},{"p":"b2","x":16.05,"e":97.5,"c":98.2,"d":28.6},{"p":"b2","x":16.10,"e":98.6,"c":98.4,"d":28.8},{"p":"b2","x":16.146,"e":99.2,"c":99.1,"d":28.7},{"p":"b2","x":16.176,"e":101,"c":100.8,"d":28.6},{"p":"b2","x":16.1905,"e":104,"c":103.6,"d":28.7},{"p":"b2","x":16.197,"e":108,"c":107.5,"d":28.6},{"p":"b2","x":16.2035,"e":115,"c":113.5,"d":28.5},{"p":"b2","x":16.21,"e":130,"c":127.5},{"p":"b2","x":16.2165,"e":165,"c":160},{"p":"b2","x":16.223,"e":222,"c":212.9},{"p":"b2","x":16.2295,"e":279.1,"c":265.7},{"p":"b2","x":16.236,"e":309.3,"c":293.7},{"p":"b2","x":16.2425,"e":279.1,"c":265.7},{"p":"b2","x":16.249,"e":222,"c":212.9},{"p":"b2","x":16.2555,"e":170,"c":164.7},{"p":"b2","x":16.262,"e":137.1,"c":134.2},{"p":"b2","x":16.2685,"e":120.8,"c":119.1},{"p":"b2","x":16.275,"e":112.6,"c":111.5},{"p":"b2","x":16.2815,"e":108.4,"c":107.6,"d":28.7},{"p":"b2","x":16.296,"e":103.3,"c":102.9,"d":28.7},{"p":"b2","x":16.326,"e":100.3,"c":100.2,"d":28.8},{"p":"b2","x":16.386,"e":98.8,"c":98.8,"d":28.7},{"p":"b2","x":16.43,"e":97.9,"c":98.3,"d":28.6},{"p":"b2","x":16.48,"e":98.6,"c":98.1,"d":28.8},{"p":"b2","x":16.53,"e":97.7,"c":98.0,"d":28.7},{"p":"b2","x":16.58,"e":98.5,"c":98.0,"d":28.6},{"p":"b2","x":16.63,"e":97.4,"c":98.1,"d":28.8},{"p":"b2","x":16.68,"e":98.9,"c":98.2,"d":28.7},{"p":"b2","x":16.72,"e":98.2,"c":98.4,"d":28.7},{"p":"b2","x":16.756,"e":99,"c":98.9,"d":28.7},{"p":"b2","x":16.769,"e":99.4,"c":99.3,"d":28.8},{"p":"b2","x":16.782,"e":100.8,"c":100.6,"d":28.7},{"p":"b2","x":16.7885,"e":102.5,"c":102.1},{"p":"b2","x":16.795,"e":105.5,"c":104.8},{"p":"b2","x":16.8015,"e":110.3,"c":109.2},{"p":"b2","x":16.808,"e":116.8,"c":115.1},{"p":"b2","x":16.8145,"e":123.3,"c":121},{"p":"b2","x":16.821,"e":126.3,"c":123.7},{"p":"b2","x":16.8275,"e":123.3,"c":121},{"p":"b2","x":16.834,"e":116.8,"c":115.1},{"p":"b2","x":16.8405,"e":110.3,"c":109.2},{"p":"b2","x":16.847,"e":105.5,"c":104.8},{"p":"b2","x":16.8535,"e":102.5,"c":102.1},{"p":"b2","x":16.86,"e":100.8,"c":100.6},{"p":"b2","x":16.873,"e":100.3,"c":100.1},{"p":"b2","x":16.887,"e":100.6,"c":100.4},{"p":"b2","x":16.90,"e":101,"c":100.9},{"p":"b2","x":16.913,"e":102.7,"c":102.4},{"p":"b2","x":16.9195,"e":105.1,"c":104.7},{"p":"b2","x":16.926,"e":109.8,"c":109.1},{"p":"b2","x":16.9325,"e":117.4,"c":116.3},{"p":"b2","x":16.939,"e":127.7,"c":125.9},{"p":"b2","x":16.9455,"e":137.9,"c":135.5},{"p":"b2","x":16.952,"e":142.7,"c":140},{"p":"b2","x":16.9585,"e":137.9,"c":135.5},{"p":"b2","x":16.965,"e":127.7,"c":125.9},{"p":"b2","x":16.9715,"e":117.4,"c":116.3},{"p":"b2","x":16.978,"e":109.8,"c":109.1},{"p":"b2","x":16.9845,"e":105.1,"c":104.7},{"p":"b2","x":16.991,"e":102.5,"c":102.2},{"p":"b2","x":17.004,"e":100.2,"c":100.1,"d":28.7},{"p":"b2","x":17.017,"e":99.6,"c":99.5,"d":28.8},{"p":"b2","x":17.05,"e":98.6,"c":98.6,"d":28.7},{"p":"b2","x":17.10,"e":97.6,"c":98.2,"d":28.6},{"p":"b2","x":17.15,"e":98.7,"c":98.1,"d":28.8},{"p":"b2","x":17.20,"e":97.5,"c":98.0,"d":28.7},{"p":"b2","x":17.25,"e":98.4,"c":98.0,"d":28.6},{"p":"b2","x":17.30,"e":98.9,"c":98.0,"d":28.8},{"p":"b2","x":17.35,"e":97.3,"c":98.0,"d":28.7},{"p":"b2","x":17.40,"e":98.1,"c":98.0,"d":28.7},{"p":"b2","x":17.45,"e":98.8,"c":98.0,"d":28.6},{"p":"b2","x":17.50,"e":97.4,"c":98.0,"d":28.8},{"p":"b2","x":17.55,"e":98.3,"c":98.0,"d":28.7},{"p":"b2","x":17.60,"e":97.8,"c":98.0,"d":28.6},{"p":"b2","x":17.65,"e":98.9,"c":98.0,"d":28.8},{"p":"b2","x":17.70,"e":97.2,"c":98.0,"d":28.7},{"p":"b2","x":17.75,"e":98.5,"c":98.0,"d":28.7},{"p":"b2","x":17.80,"e":97.9,"c":98.0,"d":28.6},{"p":"b2","x":17.85,"e":98.4,"c":98.0,"d":28.8},{"p":"b2","x":17.90,"e":97.3,"c":98.0,"d":28.7},{"p":"b2","x":17.95,"e":98.7,"c":98.0,"d":28.6},{"p":"b2","x":18.00,"e":98.1,"c":98.0,"d":28.8},{"p":"b2","x":18.05,"e":97.6,"c":98.0,"d":28.7},{"p":"b2","x":18.10,"e":98.8,"c":98.0,"d":28.7},{"p":"b2","x":18.15,"e":97.4,"c":98.0,"d":28.6},{"p":"b2","x":18.20,"e":98.3,"c":98.0,"d":28.8},{"p":"b2","x":18.25,"e":97.9,"c":98.0,"d":28.7},{"p":"b2","x":18.30,"e":98.6,"c":98.0,"d":28.6},{"p":"b2","x":18.35,"e":97.5,"c":98.0,"d":28.8},{"p":"b2","x":18.40,"e":98.2,"c":98.0,"d":28.7},{"p":"b2","x":18.45,"e":98.9,"c":98.0,"d":28.7},{"p":"b2","x":18.50,"e":97.3,"c":98.0,"d":28.6},{"p":"b2","x":18.55,"e":98.4,"c":98.0,"d":28.8},{"p":"b2","x":18.60,"e":97.8,"c":98.0,"d":28.7},{"p":"b2","x":18.65,"e":98.6,"c":98.1,"d":28.6},{"p":"b2","x":18.70,"e":97.6,"c":98.1,"d":28.8},{"p":"b2","x":18.75,"e":98.3,"c":98.1,"d":28.7},{"p":"b2","x":18.80,"e":98.0,"c":98.2,"d":28.7},{"p":"b2","x":18.85,"e":100.8,"c":98.2,"d":29.8},{"p":"b2","x":18.90,"e":97.7,"c":98.3,"d":28.6},{"p":"b2","x":18.95,"e":98.6,"c":98.4,"d":28.8},{"p":"b2","x":19.00,"e":98.2,"c":98.5,"d":28.7},{"p":"b2","x":19.05,"e":98.9,"c":98.6,"d":28.7},{"p":"b2","x":19.10,"e":98.4,"c":98.7,"d":28.6},{"p":"b2","x":19.15,"e":98.9,"c":98.9,"d":28.8},{"p":"b2","x":19.20,"e":98.5,"c":99.0,"d":28.7},{"p":"b2","x":19.25,"e":99.3,"c":99.2,"d":28.7},{"p":"b2","x":19.30,"e":99.4,"c":99.4,"d":28.6},{"p":"b2","x":19.35,"e":99.9,"c":99.8,"d":28.7},{"p":"b2","x":19.372,"e":101,"c":100.8,"d":28.7},{"p":"b2","x":19.385,"e":102.1,"c":101.9,"d":28.8},{"p":"b2","x":19.398,"e":104.9,"c":104.5,"d":28.7},{"p":"b2","x":19.4045,"e":107.6,"c":107},{"p":"b2","x":19.411,"e":112,"c":111.2},{"p":"b2","x":19.4175,"e":118.9,"c":117.8},{"p":"b2","x":19.424,"e":128.8,"c":127.1},{"p":"b2","x":19.4305,"e":141.8,"c":139.5},{"p":"b2","x":19.437,"e":155.7,"c":152.6},{"p":"b2","x":19.4435,"e":167.7,"c":164},{"p":"b2","x":19.45,"e":172.7,"c":168.7},{"p":"b2","x":19.4565,"e":167.7,"c":164},{"p":"b2","x":19.463,"e":155.7,"c":152.6},{"p":"b2","x":19.4695,"e":141.8,"c":139.5},{"p":"b2","x":19.476,"e":128.8,"c":127.1},{"p":"b2","x":19.4825,"e":118.9,"c":117.8},{"p":"b2","x":19.489,"e":112,"c":111.2},{"p":"b2","x":19.4955,"e":107.6,"c":107},{"p":"b2","x":19.502,"e":104.9,"c":104.5,"d":28.7},{"p":"b2","x":19.515,"e":102.5,"c":102.3,"d":28.7},{"p":"b2","x":19.525,"e":102.3,"c":102.2,"d":28.7},{"p":"b2","x":19.535,"e":103,"c":103,"d":28.7},{"p":"b2","x":19.545,"e":105.5,"c":105.3,"d":28.7},{"p":"b2","x":19.558,"e":112.5,"c":112.2},{"p":"b2","x":19.5645,"e":118.1,"c":117.7},{"p":"b2","x":19.571,"e":127.4,"c":126.8},{"p":"b2","x":19.5775,"e":142,"c":141.1},{"p":"b2","x":19.584,"e":162.8,"c":161.4},{"p":"b2","x":19.5905,"e":190.3,"c":188.4},{"p":"b2","x":19.597,"e":219.4,"c":216.9},{"p":"b2","x":19.6035,"e":244.8,"c":241.7},{"p":"b2","x":19.61,"e":255.3,"c":252},{"p":"b2","x":19.6165,"e":244.8,"c":241.7},{"p":"b2","x":19.623,"e":219.4,"c":216.9},{"p":"b2","x":19.6295,"e":190.3,"c":188.4},{"p":"b2","x":19.636,"e":162.8,"c":161.4},{"p":"b2","x":19.6425,"e":142,"c":141.1},{"p":"b2","x":19.649,"e":127.4,"c":126.8},{"p":"b2","x":19.6555,"e":118.1,"c":117.7},{"p":"b2","x":19.662,"e":112.5,"c":112.2},{"p":"b2","x":19.675,"e":106.7,"c":106.5,"d":28.7},{"p":"b2","x":19.688,"e":104.3,"c":104.2,"d":28.7},{"p":"b2","x":19.71,"e":101.9,"c":101.9,"d":28.8},{"p":"b2","x":19.76,"e":99.4,"c":99.3,"d":28.7},{"p":"b2","x":19.80,"e":98.3,"c":98.6,"d":28.6},{"p":"b2","x":19.85,"e":97.6,"c":98.3,"d":28.8},{"p":"b2","x":19.90,"e":98.6,"c":98.1,"d":28.7},{"p":"b2","x":19.95,"e":97.9,"c":98.0,"d":28.6},{"p":"b2","x":20.00,"e":98.4,"c":98.0,"d":28.7},
{"p":"b2","x":16.21,"d":28},{"p":"b2","x":16.216,"d":24},{"p":"b2","x":16.222,"d":20.3},{"p":"b2","x":16.229,"d":30},{"p":"b2","x":16.236,"d":44},{"p":"b2","x":16.243,"d":48.7},{"p":"b2","x":16.25,"d":47},{"p":"b2","x":16.257,"d":48},{"p":"b2","x":16.263,"d":40},{"p":"b2","x":16.27,"d":31},{"p":"b2","x":16.277,"d":28.5},
{"p":"b2","x":16.79,"d":28.7},{"p":"b2","x":16.805,"d":28},{"p":"b2","x":16.815,"d":31},{"p":"b2","x":16.822,"d":27},{"p":"b2","x":16.83,"d":29.5},{"p":"b2","x":16.845,"d":28.7},{"p":"b2","x":16.87,"d":28.6},{"p":"b2","x":16.91,"d":28.7},{"p":"b2","x":16.935,"d":28.7},{"p":"b2","x":16.945,"d":31.5},{"p":"b2","x":16.952,"d":25.5},{"p":"b2","x":16.96,"d":30.5},{"p":"b2","x":16.967,"d":26.5},{"p":"b2","x":16.98,"d":29},{"p":"b2","x":16.995,"d":28.7},
{"p":"b2","x":19.405,"d":28.7},{"p":"b2","x":19.42,"d":29.5},{"p":"b2","x":19.435,"d":31},{"p":"b2","x":19.445,"d":32},{"p":"b2","x":19.455,"d":28},{"p":"b2","x":19.465,"d":26.5},{"p":"b2","x":19.48,"d":28.5},{"p":"b2","x":19.495,"d":28.7},
{"p":"b2","x":19.555,"d":28.7},{"p":"b2","x":19.575,"d":28},{"p":"b2","x":19.59,"d":27},{"p":"b2","x":19.597,"d":25},{"p":"b2","x":19.604,"d":15.3},{"p":"b2","x":19.61,"d":30},{"p":"b2","x":19.615,"d":47},{"p":"b2","x":19.625,"d":46},{"p":"b2","x":19.632,"d":38},{"p":"b2","x":19.64,"d":30},{"p":"b2","x":19.65,"d":28.5},{"p":"b2","x":19.665,"d":28.7},

{"p":"b3","x":47.00,"e":108.6,"c":108,"d":57.1},{"p":"b3","x":47.05,"e":107.4,"c":108,"d":56.9},{"p":"b3","x":47.10,"e":108.3,"c":108,"d":57},{"p":"b3","x":47.15,"e":107.2,"c":108,"d":57.2},{"p":"b3","x":47.20,"e":108.7,"c":108,"d":56.9},{"p":"b3","x":47.25,"e":108.0,"c":108,"d":57},{"p":"b3","x":47.30,"e":107.5,"c":108,"d":57.1},{"p":"b3","x":47.35,"e":108.9,"c":108,"d":56.9},{"p":"b3","x":47.40,"e":107.3,"c":108,"d":57},{"p":"b3","x":47.45,"e":108.2,"c":108.1,"d":57.1},{"p":"b3","x":47.50,"e":108.8,"c":108.2,"d":57},{"p":"b3","x":47.55,"e":107.6,"c":108.3,"d":56.9},{"p":"b3","x":47.60,"e":108.6,"c":108.5,"d":57.1},{"p":"b3","x":47.65,"e":109.2,"c":108.9,"d":57},{"p":"b3","x":47.70,"e":110.3,"c":110.1,"d":57},{"p":"b3","x":47.74,"e":111.4,"c":111.2,"d":57},{"p":"b3","x":47.779,"e":113.1,"c":112.6,"d":57},{"p":"b3","x":47.799,"e":114.5,"c":113.9,"d":57.1},{"p":"b3","x":47.819,"e":117.3,"c":116.5,"d":57},{"p":"b3","x":47.839,"e":122.7,"c":121.4,"d":57},{"p":"b3","x":47.859,"e":131,"c":131,"d":57},{"p":"b3","x":47.879,"e":148,"c":147.8},{"p":"b3","x":47.899,"e":178.3,"c":172},{"p":"b3","x":47.919,"e":206.7,"c":197.9},{"p":"b3","x":47.939,"e":220.3,"c":210.3},{"p":"b3","x":47.959,"e":208,"c":197.9},{"p":"b3","x":47.979,"e":182,"c":172},{"p":"b3","x":47.999,"e":158,"c":147.8},{"p":"b3","x":48.019,"e":140,"c":131},{"p":"b3","x":48.039,"e":127,"c":121.4},{"p":"b3","x":48.059,"e":119,"c":116.5},{"p":"b3","x":48.079,"e":115,"c":113.9},{"p":"b3","x":48.099,"e":113.1,"c":112.6},{"p":"b3","x":48.139,"e":111.4,"c":111.1},{"p":"b3","x":48.189,"e":110.1,"c":109.9,"d":57.1},{"p":"b3","x":48.239,"e":109.6,"c":109.4,"d":57},{"p":"b3","x":48.29,"e":108.5,"c":109,"d":56.9},{"p":"b3","x":48.34,"e":109.1,"c":108.7,"d":57},{"p":"b3","x":48.39,"e":108.2,"c":108.5,"d":57.1},{"p":"b3","x":48.44,"e":107.8,"c":108.4,"d":57},{"p":"b3","x":48.49,"e":108.9,"c":108.4,"d":56.9},{"p":"b3","x":48.54,"e":108.3,"c":108.5,"d":57},{"p":"b3","x":48.59,"e":108.8,"c":108.7,"d":57.1},{"p":"b3","x":48.64,"e":108.7,"c":108.9,"d":57},{"p":"b3","x":48.68,"e":109.5,"c":109.1,"d":57},{"p":"b3","x":48.718,"e":109.4,"c":109.4,"d":57},{"p":"b3","x":48.758,"e":110.2,"c":110.2,"d":57},{"p":"b3","x":48.798,"e":111.8,"c":111.7,"d":57},{"p":"b3","x":48.818,"e":113.7,"c":113.6,"d":57},{"p":"b3","x":48.838,"e":117.8,"c":117.6,"d":57},{"p":"b3","x":48.858,"e":127.5,"c":127.2,"d":57},{"p":"b3","x":48.878,"e":145.5,"c":145},{"p":"b3","x":48.898,"e":169.5,"c":168.7},{"p":"b3","x":48.918,"e":183,"c":182},{"p":"b3","x":48.938,"e":169.5,"c":168.7},{"p":"b3","x":48.958,"e":145.5,"c":145},{"p":"b3","x":48.978,"e":127.5,"c":127.2},{"p":"b3","x":48.998,"e":117.8,"c":117.6},{"p":"b3","x":49.018,"e":114.5,"c":114.4},{"p":"b3","x":49.038,"e":113.5,"c":113.6},{"p":"b3","x":49.078,"e":113,"c":113.2},{"p":"b3","x":49.118,"e":113.5,"c":113.7},{"p":"b3","x":49.148,"e":115,"c":115.2},{"p":"b3","x":49.168,"e":117.5,"c":117},{"p":"b3","x":49.188,"e":119.1,"c":118.5},{"p":"b3","x":49.208,"e":123.8,"c":123},{"p":"b3","x":49.228,"e":133,"c":131.7},{"p":"b3","x":49.248,"e":150.9,"c":148.7},{"p":"b3","x":49.268,"e":182.2,"c":178.3},{"p":"b3","x":49.288,"e":227.4,"c":221.1},{"p":"b3","x":49.308,"e":275.6,"c":266.8},{"p":"b3","x":49.328,"e":298.7,"c":288.7},{"p":"b3","x":49.348,"e":278,"c":266.8},{"p":"b3","x":49.368,"e":232,"c":221.1},{"p":"b3","x":49.388,"e":190,"c":178.3},{"p":"b3","x":49.408,"e":158,"c":152},{"p":"b3","x":49.428,"e":137,"c":135.5},{"p":"b3","x":49.448,"e":125.5,"c":127},{"p":"b3","x":49.468,"e":119.5,"c":122},{"p":"b3","x":49.488,"e":116.6,"c":119},{"p":"b3","x":49.528,"e":113.7,"c":116,"d":57},{"p":"b3","x":49.578,"e":111.6,"c":113.5,"d":57},{"p":"b3","x":49.628,"e":110.7,"c":112,"d":57.1},{"p":"b3","x":49.678,"e":110,"c":111,"d":57},{"p":"b3","x":49.73,"e":109.2,"c":110.3,"d":56.9},{"p":"b3","x":49.78,"e":108.8,"c":109.7,"d":57},{"p":"b3","x":49.83,"e":108.9,"c":109.5,"d":57.1},{"p":"b3","x":49.88,"e":108.3,"c":109.4,"d":57},{"p":"b3","x":49.93,"e":108.9,"c":109.5,"d":57},{"p":"b3","x":49.97,"e":109.6,"c":109.9,"d":57},{"p":"b3","x":49.982,"e":110.8,"c":110.3,"d":57},{"p":"b3","x":50.002,"e":111.6,"c":110.9,"d":57},{"p":"b3","x":50.022,"e":113.2,"c":112.2,"d":57},{"p":"b3","x":50.042,"e":116.2,"c":114.6,"d":57},{"p":"b3","x":50.062,"e":122,"c":119.3,"d":57},{"p":"b3","x":50.082,"e":132.2,"c":127.5},{"p":"b3","x":50.102,"e":147,"c":139.3},{"p":"b3","x":50.122,"e":162.8,"c":152},{"p":"b3","x":50.142,"e":170.3,"c":158},{"p":"b3","x":50.162,"e":162.8,"c":152},{"p":"b3","x":50.182,"e":147,"c":139.3},{"p":"b3","x":50.202,"e":132.2,"c":128},{"p":"b3","x":50.222,"e":122,"c":120.5},{"p":"b3","x":50.242,"e":116.2,"c":116},{"p":"b3","x":50.262,"e":113.2,"c":113.5},{"p":"b3","x":50.282,"e":111.6,"c":112.2},{"p":"b3","x":50.302,"e":110.8,"c":111.4,"d":57},{"p":"b3","x":50.342,"e":109.9,"c":110.5,"d":57},{"p":"b3","x":50.392,"e":109.2,"c":109.8,"d":57.1},{"p":"b3","x":50.442,"e":108.9,"c":109.3,"d":57},{"p":"b3","x":50.50,"e":108.3,"c":108.9,"d":56.9},{"p":"b3","x":50.55,"e":107.6,"c":108.6,"d":57},{"p":"b3","x":50.60,"e":108.5,"c":108.4,"d":57.1},{"p":"b3","x":50.65,"e":107.9,"c":108.2,"d":57},{"p":"b3","x":50.70,"e":108.6,"c":108.1,"d":56.9},{"p":"b3","x":50.75,"e":107.5,"c":108.1,"d":57},{"p":"b3","x":50.80,"e":108.2,"c":108,"d":57.1},{"p":"b3","x":50.85,"e":108.9,"c":108,"d":57},{"p":"b3","x":50.90,"e":107.7,"c":108,"d":56.9},{"p":"b3","x":50.95,"e":108.4,"c":108,"d":57},{"p":"b3","x":51.00,"e":107.9,"c":108,"d":57},
{"p":"b3","x":47.86,"d":57},{"p":"b3","x":47.89,"d":64},{"p":"b3","x":47.91,"d":78.7},{"p":"b3","x":47.93,"d":60},{"p":"b3","x":47.958,"d":38.7},{"p":"b3","x":47.98,"d":48},{"p":"b3","x":48.00,"d":58},{"p":"b3","x":48.04,"d":65.3},{"p":"b3","x":48.08,"d":61},{"p":"b3","x":48.12,"d":58},{"p":"b3","x":48.16,"d":57},
{"p":"b3","x":48.87,"d":57},{"p":"b3","x":48.894,"d":62},{"p":"b3","x":48.915,"d":54},{"p":"b3","x":48.946,"d":40.3},{"p":"b3","x":48.975,"d":52},{"p":"b3","x":49.014,"d":61},{"p":"b3","x":49.05,"d":59},{"p":"b3","x":49.09,"d":56},{"p":"b3","x":49.15,"d":52},{"p":"b3","x":49.20,"d":47},{"p":"b3","x":49.26,"d":43.7},{"p":"b3","x":49.285,"d":55},{"p":"b3","x":49.30,"d":75},{"p":"b3","x":49.31,"d":93.7},{"p":"b3","x":49.325,"d":70},{"p":"b3","x":49.34,"d":35},{"p":"b3","x":49.356,"d":17},{"p":"b3","x":49.37,"d":35},{"p":"b3","x":49.39,"d":55},{"p":"b3","x":49.42,"d":66},{"p":"b3","x":49.45,"d":69.3},{"p":"b3","x":49.49,"d":62},{"p":"b3","x":49.52,"d":57},
{"p":"b3","x":50.08,"d":57},{"p":"b3","x":50.105,"d":65},{"p":"b3","x":50.122,"d":76},{"p":"b3","x":50.14,"d":64},{"p":"b3","x":50.16,"d":55},{"p":"b3","x":50.18,"d":54},{"p":"b3","x":50.21,"d":58},{"p":"b3","x":50.242,"d":62},{"p":"b3","x":50.27,"d":59},{"p":"b3","x":50.30,"d":57}
],
"tk":[
{"p":"a1","x":8.38,"y":69,"ph":"Layered"},{"p":"a1","x":8.465,"y":52.3,"ph":"LNMO"},
{"p":"a2","x":16.155,"y":79,"ph":"Layered"},{"p":"a2","x":16.80,"y":79,"ph":"Layered"},{"p":"a2","x":16.86,"y":79,"ph":"Layered"},{"p":"a2","x":19.464,"y":79,"ph":"Layered"},{"p":"a2","x":16.248,"y":52.3,"ph":"LNMO"},{"p":"a2","x":16.967,"y":52.3,"ph":"LNMO"},{"p":"a2","x":19.611,"y":52.3,"ph":"LNMO"},
{"p":"a3","x":47.133,"y":95.7,"ph":"LNMO"},{"p":"a3","x":47.979,"y":95.7,"ph":"LNMO"},{"p":"a3","x":49.369,"y":95.7,"ph":"LNMO"},{"p":"a3","x":50.178,"y":95.7,"ph":"LNMO"},{"p":"a3","x":47.627,"y":99.3,"ph":"Layered"},{"p":"a3","x":48.844,"y":99.3,"ph":"Layered"},{"p":"a3","x":48.99,"y":99.3,"ph":"Layered"},{"p":"a3","x":49.046,"y":99.3,"ph":"Layered"},{"p":"a3","x":49.73,"y":99.3,"ph":"Layered"},{"p":"a3","x":49.86,"y":99.3,"ph":"Layered"},
{"p":"b1","x":8.462,"y":53.7,"ph":"LNMO"},
{"p":"b2","x":16.821,"y":79.3,"ph":"RS"},{"p":"b2","x":19.45,"y":79.3,"ph":"RS"},{"p":"b2","x":16.236,"y":55.3,"ph":"LNMO"},{"p":"b2","x":16.96,"y":55.3,"ph":"LNMO"},{"p":"b2","x":19.61,"y":55.3,"ph":"LNMO"},
{"p":"b3","x":47.10,"y":97,"ph":"LNMO"},{"p":"b3","x":47.95,"y":97,"ph":"LNMO"},{"p":"b3","x":49.336,"y":97,"ph":"LNMO"},{"p":"b3","x":50.154,"y":97,"ph":"LNMO"},{"p":"b3","x":48.918,"y":99.3,"ph":"RS"}
],
"tx":[
{"p":"a1","x":8.491,"y":270.7,"t":"111","g":"LNMO"},{"p":"a1","x":8.348,"y":112.3,"t":"003","g":"Layered"},
{"p":"a2","x":15.68,"y":275,"t":"311","g":"LNMO"},{"p":"a2","x":19.25,"y":269.7,"t":"400","g":"LNMO"},{"p":"a2","x":16.51,"y":237.3,"t":"wt.%(LNMO)=76.4(5)","g":"note"},{"p":"a2","x":16.417,"y":181.7,"t":"006 & 012","g":"Layered"},{"p":"a2","x":17.19,"y":133.3,"t":"222","g":"LNMO"},{"p":"a2","x":18.82,"y":164,"t":"104","g":"Layered"},
{"p":"a3","x":47.455,"y":229,"t":"931","g":"LNMO"},{"p":"a3","x":48.797,"y":281.3,"t":"844","g":"LNMO"},{"p":"a3","x":49.65,"y":264,"t":"Asymmetry","g":"note"},{"p":"a3","x":48.08,"y":200,"t":"128 & 300","g":"Layered"},{"p":"a3","x":48.12,"y":148,"t":"10 16","g":"Layered"},{"p":"a3","x":49.98,"y":193.3,"t":"755","g":"LNMO"},
{"p":"b1","x":8.492,"y":276.3,"t":"111","g":"LNMO"},
{"p":"b2","x":15.695,"y":283,"t":"311","g":"LNMO"},{"p":"b2","x":19.26,"y":276.3,"t":"400","g":"LNMO"},{"p":"b2","x":16.49,"y":246,"t":"wt.%(LNMO)=75.7(4)","g":"note"},{"p":"b2","x":16.46,"y":158,"t":"111","g":"RS"},{"p":"b2","x":17.2,"y":139.7,"t":"222","g":"LNMO"},{"p":"b2","x":18.74,"y":182.7,"t":"200","g":"RS"},
{"p":"b3","x":47.475,"y":235.3,"t":"931","g":"LNMO"},{"p":"b3","x":48.813,"y":288,"t":"844","g":"LNMO"},{"p":"b3","x":49.66,"y":274.7,"t":"Asymmetry","g":"note"},{"p":"b3","x":48.495,"y":201,"t":"422","g":"RS"},{"p":"b3","x":49.993,"y":200.3,"t":"755","g":"LNMO"}
],
"st":[
{"p":"a1","x":8.1144,"y":156.7,"t":"a","s":"it"},{"p":"a1","x":8.1306,"y":156.7,"t":"=8.32192(5) Å","s":"rm"},
{"p":"a1","x":8.1144,"y":139.7,"t":"R","s":"it"},{"p":"a1","x":8.1288,"y":139.7,"t":"wp","s":"sub"},{"p":"a1","x":8.158,"y":139.7,"t":"=11.4 %","s":"rm"},
{"p":"a1","x":8.1144,"y":122.3,"t":"R","s":"it"},{"p":"a1","x":8.1288,"y":122.3,"t":"B","s":"sub"},{"p":"a1","x":8.1475,"y":122.3,"t":"=4.08 %","s":"rm"},
{"p":"a1","x":8.1144,"y":105.7,"t":"Ni","s":"it"},{"p":"a1","x":8.1423,"y":105.7,"t":"Li","s":"sub"},{"p":"a1","x":8.168,"y":105.7,"t":"=11.3(1) %","s":"rm"},
{"p":"b1","x":8.1342,"y":162.7,"t":"a","s":"it"},{"p":"b1","x":8.1504,"y":162.7,"t":"=8.32672(5) Å","s":"rm"},
{"p":"b1","x":8.1342,"y":145.3,"t":"R","s":"it"},{"p":"b1","x":8.1486,"y":145.3,"t":"wp","s":"sub"},{"p":"b1","x":8.1778,"y":145.3,"t":"=12.7 %","s":"rm"},
{"p":"b1","x":8.1342,"y":128,"t":"R","s":"it"},{"p":"b1","x":8.1486,"y":128,"t":"B","s":"sub"},{"p":"b1","x":8.1673,"y":128,"t":"=6.04 %","s":"rm"},
{"p":"b1","x":8.1342,"y":111.3,"t":"Ni","s":"it"},{"p":"b1","x":8.1621,"y":111.3,"t":"Li","s":"sub"},{"p":"b1","x":8.1878,"y":111.3,"t":"=12.1(2) %","s":"rm"}
],
"ar":[
{"p":"a2","id":"w","i":0,"x":16.792,"y":169},{"p":"a2","id":"w","i":1,"x":16.686,"y":150},{"p":"a2","id":"w","i":2,"x":16.68,"y":130},{"p":"a2","id":"w","i":3,"x":16.788,"y":114},
{"p":"a3","id":"c1","i":0,"x":48.643,"y":189},{"p":"a3","id":"c1","i":1,"x":48.865,"y":177.3},{"p":"a3","id":"c1","i":2,"x":48.974,"y":160.7},{"p":"a3","id":"c1","i":3,"x":48.998,"y":150.7},
{"p":"a3","id":"c2","i":0,"x":48.462,"y":144},{"p":"a3","id":"c2","i":1,"x":48.724,"y":124},
{"p":"a3","id":"c3","i":0,"x":50.174,"y":237.3},{"p":"a3","id":"c3","i":1,"x":49.571,"y":145.7},
{"p":"a3","id":"c4","i":0,"x":50.598,"y":245.7},{"p":"a3","id":"c4","i":1,"x":50.758,"y":207.3},{"p":"a3","id":"c4","i":2,"x":50.779,"y":174},{"p":"a3","id":"c4","i":3,"x":50.698,"y":140.7},{"p":"a3","id":"c4","i":4,"x":50.537,"y":122.3},
{"p":"b3","id":"d3","i":0,"x":50.166,"y":254.7},{"p":"b3","id":"d3","i":1,"x":49.55,"y":161.3},
{"p":"b3","id":"d4","i":0,"x":50.598,"y":242.7},{"p":"b3","id":"d4","i":1,"x":50.75,"y":212},{"p":"b3","id":"d4","i":2,"x":50.779,"y":182},{"p":"b3","id":"d4","i":3,"x":50.698,"y":145.3},{"p":"b3","id":"d4","i":4,"x":50.505,"y":120.3}
],
"ah":[
{"p":"a2","x":16.788,"y":114,"a":58},
{"p":"a3","x":48.998,"y":150.7,"a":80},{"p":"a3","x":48.724,"y":124,"a":42},{"p":"a3","x":49.571,"y":145.7,"a":118.6},{"p":"a3","x":50.537,"y":122.3,"a":124},
{"p":"b3","x":49.55,"y":161.3,"a":118.6},{"p":"b3","x":50.505,"y":120.3,"a":122}
]
},
"bounds":"flush",
"columns":3,
"spacing":{"row":117,"column":42},
"resolve":{"scale":{"color":"independent"},"legend":{"color":"independent"}},
"concat":[
{"width":333,"height":311,
 "title":{"text":"a","anchor":"start","frame":"group","dx":-41,"dy":29,"offset":10,"fontSize":26,"baseline":"alphabetic"},
 "encoding":{"x":{"field":"x","type":"quantitative","scale":{"domain":[8.1,8.7],"nice":false,"zero":false},"axis":{"title":"2θ°, λ = 0.7092 Å, SXRPD","values":[8.15,8.2,8.25,8.3,8.35,8.4,8.45,8.5,8.55,8.6,8.65],"format":"~g","labelExpr":"indexof([8.2,8.4,8.6], datum.value) >= 0 ? datum.label : ''","tickSize":{"condition":{"test":"indexof([8.2,8.4,8.6], datum.value) >= 0","value":-11},"value":-6},"labelPadding":15,"titlePadding":10,"labelFlush":false,"labelOverlap":false}}},
 "layer":[
  {"data":{"name":"prof"},"transform":[{"filter":"datum.p=='a1' && isValid(datum.e)"}],"mark":{"type":"point","filled":true,"size":16,"opacity":0.9,"clip":true},"encoding":{"y":{"field":"e","type":"quantitative","scale":{"domain":[0,311],"nice":false,"zero":false},"axis":{"title":"Intensity (a.u.)","values":[],"domain":false,"ticks":false,"titlePadding":18}},"color":{"datum":"Experimental","type":"nominal","scale":{"domain":["Experimental","Calculated","Difference","Layered","LNMO"],"range":["#ff2a2a","#2e2eff","#2ca02c","#800080","#ff0000"]},"legend":{"title":null,"orient":"none","legendX":22.2,"legendY":14,"padding":0,"labelFontSize":16,"labelColor":"#111","labelOffset":20.2,"rowPadding":8.5,"symbolSize":100,"symbolStrokeWidth":2,"symbolOpacity":1,"symbolType":{"expr":"datum.index == 0 ? 'M-0.5,0A0.5,0.5 0 1,0 0.5,0A0.5,0.5 0 1,0 -0.5,0Z' : (datum.index < 3 ? 'M-3.3,0H3.3' : 'M-0.25,-1H0.25V1H-0.25Z')"},"symbolStrokeColor":{"expr":"datum.index == 1 ? '#2e2eff' : (datum.index == 2 ? '#2ca02c' : 'transparent')"},"labelFontStyle":{"expr":"datum.index >= 3 ? 'italic' : 'normal'"},"labelExpr":"datum.label == 'Layered' ? 'Layered R3̄m S. G.' : (datum.label == 'LNMO' ? 'LNMO Fd3̄m S. G.' : datum.label)"}}}},
  {"data":{"name":"prof"},"transform":[{"filter":"datum.p=='a1' && isValid(datum.c)"}],"mark":{"type":"line","strokeWidth":2,"clip":true},"encoding":{"y":{"field":"c","type":"quantitative","scale":{"domain":[0,311],"nice":false,"zero":false},"axis":{"title":"Intensity (a.u.)","values":[],"domain":false,"ticks":false,"titlePadding":18}},"color":{"datum":"Calculated","type":"nominal","legend":null}}},
  {"data":{"name":"prof"},"transform":[{"filter":"datum.p=='a1' && isValid(datum.d)"}],"mark":{"type":"line","strokeWidth":2,"clip":true},"encoding":{"y":{"field":"d","type":"quantitative","scale":{"domain":[0,311],"nice":false,"zero":false},"axis":{"title":"Intensity (a.u.)","values":[],"domain":false,"ticks":false,"titlePadding":18}},"color":{"datum":"Difference","type":"nominal","legend":null}}},
  {"data":{"name":"tk"},"transform":[{"filter":"datum.p=='a1'"}],"mark":{"type":"tick","orient":"vertical","size":10,"thickness":2.5},"encoding":{"y":{"field":"y","type":"quantitative","scale":{"domain":[0,311],"nice":false,"zero":false},"axis":{"title":"Intensity (a.u.)","values":[],"domain":false,"ticks":false,"titlePadding":18}},"color":{"field":"ph","type":"nominal","legend":null}}},
  {"data":{"name":"tx"},"transform":[{"filter":"datum.p=='a1' && datum.g=='LNMO'"}],"mark":{"type":"text","align":"left","baseline":"middle","fontSize":18.5,"color":"#ff0000"},"encoding":{"y":{"field":"y","type":"quantitative","scale":{"domain":[0,311],"nice":false,"zero":false},"axis":{"title":"Intensity (a.u.)","values":[],"domain":false,"ticks":false,"titlePadding":18}},"text":{"field":"t"}}},
  {"data":{"name":"tx"},"transform":[{"filter":"datum.p=='a1' && datum.g=='Layered'"}],"mark":{"type":"text","align":"left","baseline":"middle","fontSize":18.5,"color":"#800080"},"encoding":{"y":{"field":"y","type":"quantitative","scale":{"domain":[0,311],"nice":false,"zero":false},"axis":{"title":"Intensity (a.u.)","values":[],"domain":false,"ticks":false,"titlePadding":18}},"text":{"field":"t"}}},
  {"data":{"name":"st"},"transform":[{"filter":"datum.p=='a1' && datum.s=='it'"}],"mark":{"type":"text","align":"left","baseline":"middle","fontSize":14,"fontStyle":"italic","color":"#111"},"encoding":{"y":{"field":"y","type":"quantitative","scale":{"domain":[0,311],"nice":false,"zero":false},"axis":{"title":"Intensity (a.u.)","values":[],"domain":false,"ticks":false,"titlePadding":18}},"text":{"field":"t"}}},
  {"data":{"name":"st"},"transform":[{"filter":"datum.p=='a1' && datum.s=='rm'"}],"mark":{"type":"text","align":"left","baseline":"middle","fontSize":14,"color":"#111"},"encoding":{"y":{"field":"y","type":"quantitative","scale":{"domain":[0,311],"nice":false,"zero":false},"axis":{"title":"Intensity (a.u.)","values":[],"domain":false,"ticks":false,"titlePadding":18}},"text":{"field":"t"}}},
  {"data":{"name":"st"},"transform":[{"filter":"datum.p=='a1' && datum.s=='sub'"}],"mark":{"type":"text","align":"left","baseline":"middle","fontSize":10.5,"fontStyle":"italic","dy":4,"color":"#111"},"encoding":{"y":{"field":"y","type":"quantitative","scale":{"domain":[0,311],"nice":false,"zero":false},"axis":{"title":"Intensity (a.u.)","values":[],"domain":false,"ticks":false,"titlePadding":18}},"text":{"field":"t"}}}
 ]},
{"width":333,"height":311,
 "title":{"text":"Air 900°C Heating","anchor":"middle","frame":"group","dx":5,"dy":24.3,"offset":10.5,"fontSize":27,"baseline":"alphabetic"},
 "encoding":{"x":{"field":"x","type":"quantitative","scale":{"domain":[15.5,20],"nice":false,"zero":false},"axis":{"title":"2θ°, λ = 0.7092 Å, SXRPD","values":[15.6,15.8,16,16.2,16.4,16.6,16.8,17,17.2,17.4,17.6,17.8,18,18.2,18.4,18.6,18.8,19,19.2,19.4,19.6,19.8,20],"format":"~g","labelExpr":"datum.value % 1 === 0 ? datum.label : ''","tickSize":{"condition":{"test":"datum.value % 1 === 0","value":-11},"value":-6},"labelPadding":15,"titlePadding":10,"labelFlush":false,"labelOverlap":false}}},
 "layer":[
  {"data":{"name":"prof"},"transform":[{"filter":"datum.p=='a2' && isValid(datum.e)"}],"mark":{"type":"point","filled":true,"size":16,"opacity":0.9,"color":"#ff2a2a","clip":true},"encoding":{"y":{"field":"e","type":"quantitative","scale":{"domain":[0,311],"nice":false,"zero":false},"axis":null}}},
  {"data":{"name":"prof"},"transform":[{"filter":"datum.p=='a2' && isValid(datum.c)"}],"mark":{"type":"line","strokeWidth":2,"color":"#2e2eff","clip":true},"encoding":{"y":{"field":"c","type":"quantitative","scale":{"domain":[0,311],"nice":false,"zero":false},"axis":null}}},
  {"data":{"name":"prof"},"transform":[{"filter":"datum.p=='a2' && isValid(datum.d)"}],"mark":{"type":"line","strokeWidth":2,"color":"#2ca02c","clip":true},"encoding":{"y":{"field":"d","type":"quantitative","scale":{"domain":[0,311],"nice":false,"zero":false},"axis":null}}},
  {"data":{"name":"tk"},"transform":[{"filter":"datum.p=='a2' && datum.ph=='Layered'"}],"mark":{"type":"tick","orient":"vertical","size":10,"thickness":2.5,"color":"#800080"},"encoding":{"y":{"field":"y","type":"quantitative","scale":{"domain":[0,311],"nice":false,"zero":false},"axis":null}}},
  {"data":{"name":"tk"},"transform":[{"filter":"datum.p=='a2' && datum.ph=='LNMO'"}],"mark":{"type":"tick","orient":"vertical","size":10,"thickness":2.5,"color":"#ff0000"},"encoding":{"y":{"field":"y","type":"quantitative","scale":{"domain":[0,311],"nice":false,"zero":false},"axis":null}}},
  {"data":{"name":"tx"},"transform":[{"filter":"datum.p=='a2' && datum.g=='LNMO'"}],"mark":{"type":"text","align":"left","baseline":"middle","fontSize":18.5,"color":"#ff0000"},"encoding":{"y":{"field":"y","type":"quantitative","scale":{"domain":[0,311],"nice":false,"zero":false},"axis":null},"text":{"field":"t"}}},
  {"data":{"name":"tx"},"transform":[{"filter":"datum.p=='a2' && datum.g=='Layered'"}],"mark":{"type":"text","align":"left","baseline":"middle","fontSize":18.5,"color":"#800080"},"encoding":{"y":{"field":"y","type":"quantitative","scale":{"domain":[0,311],"nice":false,"zero":false},"axis":null},"text":{"field":"t"}}},
  {"data":{"name":"tx"},"transform":[{"filter":"datum.p=='a2' && datum.g=='note'"}],"mark":{"type":"text","align":"left","baseline":"middle","fontSize":18.5,"color":"#111"},"encoding":{"y":{"field":"y","type":"quantitative","scale":{"domain":[0,311],"nice":false,"zero":false},"axis":null},"text":{"field":"t"}}},
  {"data":{"name":"ar"},"transform":[{"filter":"datum.p=='a2'"}],"mark":{"type":"line","color":"#000","strokeWidth":1.5,"interpolate":"natural"},"encoding":{"y":{"field":"y","type":"quantitative","scale":{"domain":[0,311],"nice":false,"zero":false},"axis":null},"detail":{"field":"id"},"order":{"field":"i","type":"quantitative"}}},
  {"data":{"name":"ah"},"transform":[{"filter":"datum.p=='a2'"}],"mark":{"type":"point","shape":"M-1,-0.65L0,0L-1,0.65","filled":false,"color":"#000","strokeWidth":1.5,"size":230,"opacity":1},"encoding":{"y":{"field":"y","type":"quantitative","scale":{"domain":[0,311],"nice":false,"zero":false},"axis":null},"angle":{"field":"a","type":"quantitative","scale":null}}}
 ]},
{"width":333,"height":311,
 "encoding":{"x":{"field":"x","type":"quantitative","scale":{"domain":[47,51],"nice":false,"zero":false},"axis":{"title":"2θ°, λ = 0.7092 Å, SXRPD","values":[47,47.2,47.4,47.6,47.8,48,48.2,48.4,48.6,48.8,49,49.2,49.4,49.6,49.8,50,50.2,50.4,50.6,50.8,51],"format":"~g","labelExpr":"datum.value % 1 === 0 ? datum.label : ''","tickSize":{"condition":{"test":"datum.value % 1 === 0","value":-11},"value":-6},"labelPadding":15,"titlePadding":10,"labelFlush":false,"labelOverlap":false}}},
 "layer":[
  {"data":{"name":"prof"},"transform":[{"filter":"datum.p=='a3' && isValid(datum.e)"}],"mark":{"type":"point","filled":true,"size":16,"opacity":0.9,"color":"#ff2a2a","clip":true},"encoding":{"y":{"field":"e","type":"quantitative","scale":{"domain":[0,311],"nice":false,"zero":false},"axis":null}}},
  {"data":{"name":"prof"},"transform":[{"filter":"datum.p=='a3' && isValid(datum.c)"}],"mark":{"type":"line","strokeWidth":2,"color":"#2e2eff","clip":true},"encoding":{"y":{"field":"c","type":"quantitative","scale":{"domain":[0,311],"nice":false,"zero":false},"axis":null}}},
  {"data":{"name":"prof"},"transform":[{"filter":"datum.p=='a3' && isValid(datum.d)"}],"mark":{"type":"line","strokeWidth":2,"color":"#2ca02c","clip":true},"encoding":{"y":{"field":"d","type":"quantitative","scale":{"domain":[0,311],"nice":false,"zero":false},"axis":null}}},
  {"data":{"name":"tk"},"transform":[{"filter":"datum.p=='a3' && datum.ph=='Layered'"}],"mark":{"type":"tick","orient":"vertical","size":10,"thickness":2.5,"color":"#800080"},"encoding":{"y":{"field":"y","type":"quantitative","scale":{"domain":[0,311],"nice":false,"zero":false},"axis":null}}},
  {"data":{"name":"tk"},"transform":[{"filter":"datum.p=='a3' && datum.ph=='LNMO'"}],"mark":{"type":"tick","orient":"vertical","size":10,"thickness":2.5,"color":"#ff0000"},"encoding":{"y":{"field":"y","type":"quantitative","scale":{"domain":[0,311],"nice":false,"zero":false},"axis":null}}},
  {"data":{"name":"tx"},"transform":[{"filter":"datum.p=='a3' && datum.g=='LNMO'"}],"mark":{"type":"text","align":"left","baseline":"middle","fontSize":18.5,"color":"#ff0000"},"encoding":{"y":{"field":"y","type":"quantitative","scale":{"domain":[0,311],"nice":false,"zero":false},"axis":null},"text":{"field":"t"}}},
  {"data":{"name":"tx"},"transform":[{"filter":"datum.p=='a3' && datum.g=='Layered'"}],"mark":{"type":"text","align":"left","baseline":"middle","fontSize":18.5,"color":"#800080"},"encoding":{"y":{"field":"y","type":"quantitative","scale":{"domain":[0,311],"nice":false,"zero":false},"axis":null},"text":{"field":"t"}}},
  {"data":{"name":"tx"},"transform":[{"filter":"datum.p=='a3' && datum.g=='note'"}],"mark":{"type":"text","align":"left","baseline":"middle","fontSize":18.5,"color":"#111"},"encoding":{"y":{"field":"y","type":"quantitative","scale":{"domain":[0,311],"nice":false,"zero":false},"axis":null},"text":{"field":"t"}}},
  {"data":{"name":"ar"},"transform":[{"filter":"datum.p=='a3'"}],"mark":{"type":"line","color":"#000","strokeWidth":1.5,"interpolate":"natural"},"encoding":{"y":{"field":"y","type":"quantitative","scale":{"domain":[0,311],"nice":false,"zero":false},"axis":null},"detail":{"field":"id"},"order":{"field":"i","type":"quantitative"}}},
  {"data":{"name":"ah"},"transform":[{"filter":"datum.p=='a3'"}],"mark":{"type":"point","shape":"M-1,-0.65L0,0L-1,0.65","filled":false,"color":"#000","strokeWidth":1.5,"size":230,"opacity":1},"encoding":{"y":{"field":"y","type":"quantitative","scale":{"domain":[0,311],"nice":false,"zero":false},"axis":null},"angle":{"field":"a","type":"quantitative","scale":null}}}
 ]},
{"width":333,"height":311,
 "title":{"text":"b","anchor":"start","frame":"group","dx":-36.5,"dy":24,"offset":18,"fontSize":26,"baseline":"alphabetic"},
 "encoding":{"x":{"field":"x","type":"quantitative","scale":{"domain":[8.1,8.7],"nice":false,"zero":false},"axis":{"title":"2θ°, λ = 0.7092 Å, SXRPD","values":[8.15,8.2,8.25,8.3,8.35,8.4,8.45,8.5,8.55,8.6,8.65],"format":"~g","labelExpr":"indexof([8.2,8.4,8.6], datum.value) >= 0 ? datum.label : ''","tickSize":{"condition":{"test":"indexof([8.2,8.4,8.6], datum.value) >= 0","value":-11},"value":-6},"labelPadding":15,"titlePadding":10,"labelFlush":false,"labelOverlap":false}}},
 "layer":[
  {"data":{"name":"prof"},"transform":[{"filter":"datum.p=='b1' && isValid(datum.e)"}],"mark":{"type":"point","filled":true,"size":16,"opacity":0.9,"clip":true},"encoding":{"y":{"field":"e","type":"quantitative","scale":{"domain":[0,311],"nice":false,"zero":false},"axis":{"title":"Intensity (a.u.)","values":[],"domain":false,"ticks":false,"titlePadding":18}},"color":{"datum":"Experimental","type":"nominal","scale":{"domain":["Experimental","Calculated","Difference","RS","LNMO"],"range":["#ff2a2a","#2e2eff","#2ca02c","#000000","#ff0000"]},"legend":{"title":null,"orient":"none","legendX":22.2,"legendY":14,"padding":0,"labelFontSize":16,"labelColor":"#111","labelOffset":20.2,"rowPadding":8.5,"symbolSize":100,"symbolStrokeWidth":2,"symbolOpacity":1,"symbolType":{"expr":"datum.index == 0 ? 'M-0.5,0A0.5,0.5 0 1,0 0.5,0A0.5,0.5 0 1,0 -0.5,0Z' : (datum.index < 3 ? 'M-3.3,0H3.3' : 'M-0.25,-1H0.25V1H-0.25Z')"},"symbolStrokeColor":{"expr":"datum.index == 1 ? '#2e2eff' : (datum.index == 2 ? '#2ca02c' : 'transparent')"},"labelFontStyle":{"expr":"datum.index >= 3 ? 'italic' : 'normal'"},"labelExpr":"datum.label == 'RS' ? 'RS Fm3̄m S. G.' : (datum.label == 'LNMO' ? 'LNMO Fd3̄m S. G.' : datum.label)"}}}},
  {"data":{"name":"prof"},"transform":[{"filter":"datum.p=='b1' && isValid(datum.c)"}],"mark":{"type":"line","strokeWidth":2,"clip":true},"encoding":{"y":{"field":"c","type":"quantitative","scale":{"domain":[0,311],"nice":false,"zero":false},"axis":{"title":"Intensity (a.u.)","values":[],"domain":false,"ticks":false,"titlePadding":18}},"color":{"datum":"Calculated","type":"nominal","legend":null}}},
  {"data":{"name":"prof"},"transform":[{"filter":"datum.p=='b1' && isValid(datum.d)"}],"mark":{"type":"line","strokeWidth":2,"clip":true},"encoding":{"y":{"field":"d","type":"quantitative","scale":{"domain":[0,311],"nice":false,"zero":false},"axis":{"title":"Intensity (a.u.)","values":[],"domain":false,"ticks":false,"titlePadding":18}},"color":{"datum":"Difference","type":"nominal","legend":null}}},
  {"data":{"name":"tk"},"transform":[{"filter":"datum.p=='b1'"}],"mark":{"type":"tick","orient":"vertical","size":10,"thickness":2.5},"encoding":{"y":{"field":"y","type":"quantitative","scale":{"domain":[0,311],"nice":false,"zero":false},"axis":{"title":"Intensity (a.u.)","values":[],"domain":false,"ticks":false,"titlePadding":18}},"color":{"field":"ph","type":"nominal","legend":null}}},
  {"data":{"name":"tx"},"transform":[{"filter":"datum.p=='b1' && datum.g=='LNMO'"}],"mark":{"type":"text","align":"left","baseline":"middle","fontSize":18.5,"color":"#ff0000"},"encoding":{"y":{"field":"y","type":"quantitative","scale":{"domain":[0,311],"nice":false,"zero":false},"axis":{"title":"Intensity (a.u.)","values":[],"domain":false,"ticks":false,"titlePadding":18}},"text":{"field":"t"}}},
  {"data":{"name":"st"},"transform":[{"filter":"datum.p=='b1' && datum.s=='it'"}],"mark":{"type":"text","align":"left","baseline":"middle","fontSize":14,"fontStyle":"italic","color":"#111"},"encoding":{"y":{"field":"y","type":"quantitative","scale":{"domain":[0,311],"nice":false,"zero":false},"axis":{"title":"Intensity (a.u.)","values":[],"domain":false,"ticks":false,"titlePadding":18}},"text":{"field":"t"}}},
  {"data":{"name":"st"},"transform":[{"filter":"datum.p=='b1' && datum.s=='rm'"}],"mark":{"type":"text","align":"left","baseline":"middle","fontSize":14,"color":"#111"},"encoding":{"y":{"field":"y","type":"quantitative","scale":{"domain":[0,311],"nice":false,"zero":false},"axis":{"title":"Intensity (a.u.)","values":[],"domain":false,"ticks":false,"titlePadding":18}},"text":{"field":"t"}}},
  {"data":{"name":"st"},"transform":[{"filter":"datum.p=='b1' && datum.s=='sub'"}],"mark":{"type":"text","align":"left","baseline":"middle","fontSize":10.5,"fontStyle":"italic","dy":4,"color":"#111"},"encoding":{"y":{"field":"y","type":"quantitative","scale":{"domain":[0,311],"nice":false,"zero":false},"axis":{"title":"Intensity (a.u.)","values":[],"domain":false,"ticks":false,"titlePadding":18}},"text":{"field":"t"}}}
 ]},
{"width":333,"height":311,
 "title":{"text":"Air 900°C 5h","anchor":"middle","frame":"group","dx":-2,"dy":23.3,"offset":12.7,"fontSize":27,"baseline":"alphabetic"},
 "encoding":{"x":{"field":"x","type":"quantitative","scale":{"domain":[15.5,20],"nice":false,"zero":false},"axis":{"title":"2θ°, λ = 0.7092 Å, SXRPD","values":[15.6,15.8,16,16.2,16.4,16.6,16.8,17,17.2,17.4,17.6,17.8,18,18.2,18.4,18.6,18.8,19,19.2,19.4,19.6,19.8,20],"format":"~g","labelExpr":"datum.value % 1 === 0 ? datum.label : ''","tickSize":{"condition":{"test":"datum.value % 1 === 0","value":-11},"value":-6},"labelPadding":15,"titlePadding":10,"labelFlush":false,"labelOverlap":false}}},
 "layer":[
  {"data":{"name":"prof"},"transform":[{"filter":"datum.p=='b2' && isValid(datum.e)"}],"mark":{"type":"point","filled":true,"size":16,"opacity":0.9,"color":"#ff2a2a","clip":true},"encoding":{"y":{"field":"e","type":"quantitative","scale":{"domain":[0,311],"nice":false,"zero":false},"axis":null}}},
  {"data":{"name":"prof"},"transform":[{"filter":"datum.p=='b2' && isValid(datum.c)"}],"mark":{"type":"line","strokeWidth":2,"color":"#2e2eff","clip":true},"encoding":{"y":{"field":"c","type":"quantitative","scale":{"domain":[0,311],"nice":false,"zero":false},"axis":null}}},
  {"data":{"name":"prof"},"transform":[{"filter":"datum.p=='b2' && isValid(datum.d)"}],"mark":{"type":"line","strokeWidth":2,"color":"#2ca02c","clip":true},"encoding":{"y":{"field":"d","type":"quantitative","scale":{"domain":[0,311],"nice":false,"zero":false},"axis":null}}},
  {"data":{"name":"tk"},"transform":[{"filter":"datum.p=='b2' && datum.ph=='RS'"}],"mark":{"type":"tick","orient":"vertical","size":10,"thickness":2.5,"color":"#000000"},"encoding":{"y":{"field":"y","type":"quantitative","scale":{"domain":[0,311],"nice":false,"zero":false},"axis":null}}},
  {"data":{"name":"tk"},"transform":[{"filter":"datum.p=='b2' && datum.ph=='LNMO'"}],"mark":{"type":"tick","orient":"vertical","size":10,"thickness":2.5,"color":"#ff0000"},"encoding":{"y":{"field":"y","type":"quantitative","scale":{"domain":[0,311],"nice":false,"zero":false},"axis":null}}},
  {"data":{"name":"tx"},"transform":[{"filter":"datum.p=='b2' && datum.g=='LNMO'"}],"mark":{"type":"text","align":"left","baseline":"middle","fontSize":18.5,"color":"#ff0000"},"encoding":{"y":{"field":"y","type":"quantitative","scale":{"domain":[0,311],"nice":false,"zero":false},"axis":null},"text":{"field":"t"}}},
  {"data":{"name":"tx"},"transform":[{"filter":"datum.p=='b2' && (datum.g=='RS' || datum.g=='note')"}],"mark":{"type":"text","align":"left","baseline":"middle","fontSize":18.5,"color":"#111"},"encoding":{"y":{"field":"y","type":"quantitative","scale":{"domain":[0,311],"nice":false,"zero":false},"axis":null},"text":{"field":"t"}}}
 ]},
{"width":333,"height":311,
 "encoding":{"x":{"field":"x","type":"quantitative","scale":{"domain":[47,51],"nice":false,"zero":false},"axis":{"title":"2θ°, λ = 0.7092 Å, SXRPD","values":[47,47.2,47.4,47.6,47.8,48,48.2,48.4,48.6,48.8,49,49.2,49.4,49.6,49.8,50,50.2,50.4,50.6,50.8,51],"format":"~g","labelExpr":"datum.value % 1 === 0 ? datum.label : ''","tickSize":{"condition":{"test":"datum.value % 1 === 0","value":-11},"value":-6},"labelPadding":15,"titlePadding":10,"labelFlush":false,"labelOverlap":false}}},
 "layer":[
  {"data":{"name":"prof"},"transform":[{"filter":"datum.p=='b3' && isValid(datum.e)"}],"mark":{"type":"point","filled":true,"size":16,"opacity":0.9,"color":"#ff2a2a","clip":true},"encoding":{"y":{"field":"e","type":"quantitative","scale":{"domain":[0,311],"nice":false,"zero":false},"axis":null}}},
  {"data":{"name":"prof"},"transform":[{"filter":"datum.p=='b3' && isValid(datum.c)"}],"mark":{"type":"line","strokeWidth":2,"color":"#2e2eff","clip":true},"encoding":{"y":{"field":"c","type":"quantitative","scale":{"domain":[0,311],"nice":false,"zero":false},"axis":null}}},
  {"data":{"name":"prof"},"transform":[{"filter":"datum.p=='b3' && isValid(datum.d)"}],"mark":{"type":"line","strokeWidth":2,"color":"#2ca02c","clip":true},"encoding":{"y":{"field":"d","type":"quantitative","scale":{"domain":[0,311],"nice":false,"zero":false},"axis":null}}},
  {"data":{"name":"tk"},"transform":[{"filter":"datum.p=='b3' && datum.ph=='RS'"}],"mark":{"type":"tick","orient":"vertical","size":10,"thickness":2.5,"color":"#000000"},"encoding":{"y":{"field":"y","type":"quantitative","scale":{"domain":[0,311],"nice":false,"zero":false},"axis":null}}},
  {"data":{"name":"tk"},"transform":[{"filter":"datum.p=='b3' && datum.ph=='LNMO'"}],"mark":{"type":"tick","orient":"vertical","size":10,"thickness":2.5,"color":"#ff0000"},"encoding":{"y":{"field":"y","type":"quantitative","scale":{"domain":[0,311],"nice":false,"zero":false},"axis":null}}},
  {"data":{"name":"tx"},"transform":[{"filter":"datum.p=='b3' && datum.g=='LNMO'"}],"mark":{"type":"text","align":"left","baseline":"middle","fontSize":18.5,"color":"#ff0000"},"encoding":{"y":{"field":"y","type":"quantitative","scale":{"domain":[0,311],"nice":false,"zero":false},"axis":null},"text":{"field":"t"}}},
  {"data":{"name":"tx"},"transform":[{"filter":"datum.p=='b3' && (datum.g=='RS' || datum.g=='note')"}],"mark":{"type":"text","align":"left","baseline":"middle","fontSize":18.5,"color":"#111"},"encoding":{"y":{"field":"y","type":"quantitative","scale":{"domain":[0,311],"nice":false,"zero":false},"axis":null},"text":{"field":"t"}}},
  {"data":{"name":"ar"},"transform":[{"filter":"datum.p=='b3'"}],"mark":{"type":"line","color":"#000","strokeWidth":1.5,"interpolate":"natural"},"encoding":{"y":{"field":"y","type":"quantitative","scale":{"domain":[0,311],"nice":false,"zero":false},"axis":null},"detail":{"field":"id"},"order":{"field":"i","type":"quantitative"}}},
  {"data":{"name":"ah"},"transform":[{"filter":"datum.p=='b3'"}],"mark":{"type":"point","shape":"M-1,-0.65L0,0L-1,0.65","filled":false,"color":"#000","strokeWidth":1.5,"size":230,"opacity":1},"encoding":{"y":{"field":"y","type":"quantitative","scale":{"domain":[0,311],"nice":false,"zero":false},"axis":null},"angle":{"field":"a","type":"quantitative","scale":null}}}
 ]}
]
}
